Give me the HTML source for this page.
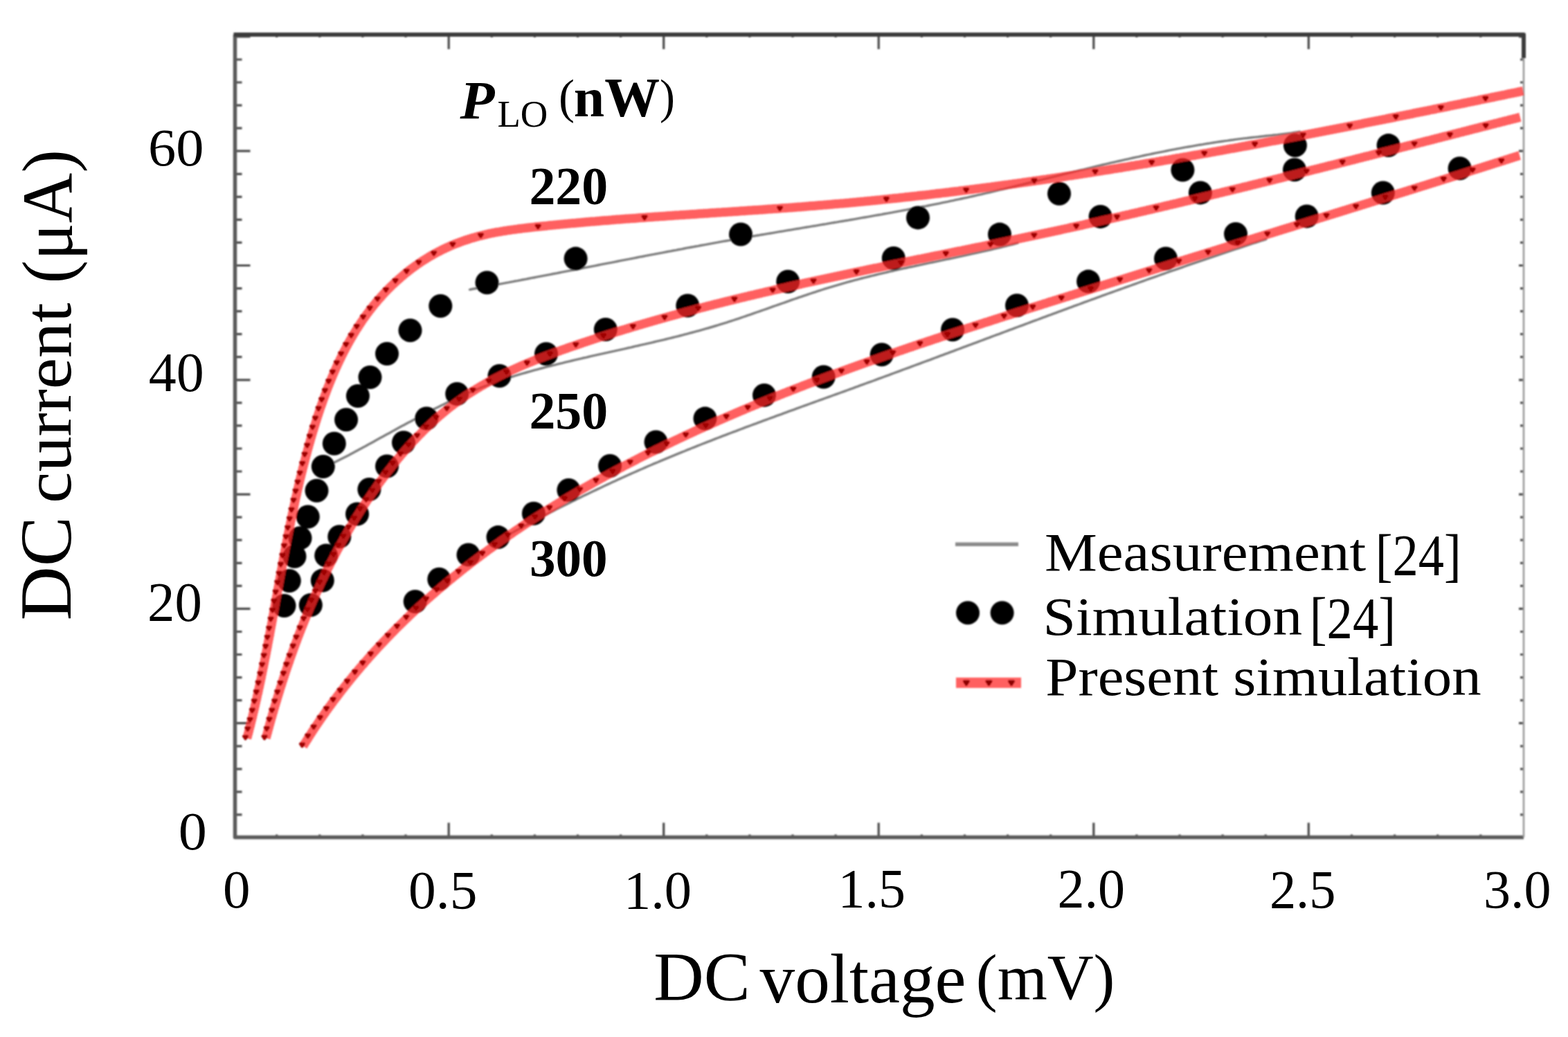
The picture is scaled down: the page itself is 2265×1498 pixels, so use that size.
<!DOCTYPE html>
<html><head><meta charset="utf-8"><title>DC current vs DC voltage</title>
<style>html,body{margin:0;padding:0;background:#fff;}svg{display:block;}</style>
</head><body><svg xmlns="http://www.w3.org/2000/svg" width="2265" height="1498" viewBox="0 0 2265 1498"><defs><filter id="bg" x="-2%" y="-2%" width="104%" height="104%"><feGaussianBlur stdDeviation="0.90"/></filter><filter id="bt" x="-5%" y="-5%" width="110%" height="110%"><feGaussianBlur stdDeviation="0.45"/></filter></defs><g filter="url(#bg)"><path d="M399.7 1209.5V1205.5M399.7 50.0V54.0M461.8 1209.5V1205.5M461.8 50.0V54.0M523.9 1209.5V1205.5M523.9 50.0V54.0M586.0 1209.5V1205.5M586.0 50.0V54.0M648.2 1209.5V1188.5M648.2 50.0V71.0M710.3 1209.5V1205.5M710.3 50.0V54.0M772.4 1209.5V1205.5M772.4 50.0V54.0M834.5 1209.5V1205.5M834.5 50.0V54.0M896.6 1209.5V1205.5M896.6 50.0V54.0M958.7 1209.5V1188.5M958.7 50.0V71.0M1020.8 1209.5V1205.5M1020.8 50.0V54.0M1082.9 1209.5V1205.5M1082.9 50.0V54.0M1145.0 1209.5V1205.5M1145.0 50.0V54.0M1207.1 1209.5V1205.5M1207.1 50.0V54.0M1269.2 1209.5V1188.5M1269.2 50.0V71.0M1331.4 1209.5V1205.5M1331.4 50.0V54.0M1393.5 1209.5V1205.5M1393.5 50.0V54.0M1455.6 1209.5V1205.5M1455.6 50.0V54.0M1517.7 1209.5V1205.5M1517.7 50.0V54.0M1579.8 1209.5V1188.5M1579.8 50.0V71.0M1641.9 1209.5V1205.5M1641.9 50.0V54.0M1704.0 1209.5V1205.5M1704.0 50.0V54.0M1766.1 1209.5V1205.5M1766.1 50.0V54.0M1828.2 1209.5V1205.5M1828.2 50.0V54.0M1890.3 1209.5V1188.5M1890.3 50.0V71.0M1952.5 1209.5V1205.5M1952.5 50.0V54.0M2014.6 1209.5V1205.5M2014.6 50.0V54.0M2076.7 1209.5V1205.5M2076.7 50.0V54.0M2138.8 1209.5V1205.5M2138.8 50.0V54.0M339.5 1176.9H349.5M2201.0 1176.9H2196.0M339.5 1143.9H349.5M2201.0 1143.9H2196.0M339.5 1110.8H349.5M2201.0 1110.8H2196.0M339.5 1077.8H349.5M2201.0 1077.8H2196.0M339.5 1044.7H361.5M2201.0 1044.7H2194.0M339.5 1011.6H349.5M2201.0 1011.6H2196.0M339.5 978.6H349.5M2201.0 978.6H2196.0M339.5 945.5H349.5M2201.0 945.5H2196.0M339.5 912.5H349.5M2201.0 912.5H2196.0M339.5 879.4H361.5M2201.0 879.4H2194.0M339.5 846.3H349.5M2201.0 846.3H2196.0M339.5 813.3H349.5M2201.0 813.3H2196.0M339.5 780.2H349.5M2201.0 780.2H2196.0M339.5 747.2H349.5M2201.0 747.2H2196.0M339.5 714.1H361.5M2201.0 714.1H2194.0M339.5 681.0H349.5M2201.0 681.0H2196.0M339.5 648.0H349.5M2201.0 648.0H2196.0M339.5 614.9H349.5M2201.0 614.9H2196.0M339.5 581.9H349.5M2201.0 581.9H2196.0M339.5 548.8H361.5M2201.0 548.8H2194.0M339.5 515.7H349.5M2201.0 515.7H2196.0M339.5 482.7H349.5M2201.0 482.7H2196.0M339.5 449.6H349.5M2201.0 449.6H2196.0M339.5 416.6H349.5M2201.0 416.6H2196.0M339.5 383.5H361.5M2201.0 383.5H2194.0M339.5 350.4H349.5M2201.0 350.4H2196.0M339.5 317.4H349.5M2201.0 317.4H2196.0M339.5 284.3H349.5M2201.0 284.3H2196.0M339.5 251.3H349.5M2201.0 251.3H2196.0M339.5 218.2H361.5M2201.0 218.2H2194.0M339.5 185.1H349.5M2201.0 185.1H2196.0M339.5 152.1H349.5M2201.0 152.1H2196.0M339.5 119.0H349.5M2201.0 119.0H2196.0M339.5 86.0H349.5M2201.0 86.0H2196.0M339.5 52.9H361.5M2201.0 52.9H2194.0" stroke="#4a4a4a" stroke-width="3.2" fill="none"/><path d="M339.5 50.0V1209.5H2201.0" stroke="#5a5a5a" stroke-width="5.5" fill="none" stroke-linejoin="round"/><path d="M337.5 50.0H2201.0V84.0" stroke="#3a3a3a" stroke-width="6" fill="none" stroke-linejoin="round"/><path d="M2201.0 84.0V1209.5" stroke="#9a9a9a" stroke-width="2.6" fill="none"/><path d="M678.6 418.3L682.6 417.5L686.7 416.8L690.7 416.1L694.7 415.3L698.8 414.6L702.8 413.9L706.8 413.1L710.9 412.4L714.9 411.6L718.9 410.9L723.0 410.1L727.0 409.4L731.0 408.6L735.1 407.9L739.1 407.1L743.1 406.3L747.2 405.6L751.2 404.8L755.2 404.0L759.2 403.3L763.3 402.5L767.3 401.7L771.3 401.0L775.4 400.2L779.4 399.4L783.4 398.6L787.4 397.9L791.5 397.1L795.5 396.3L799.5 395.5L803.5 394.8L807.6 394.0L811.6 393.2L815.6 392.4L819.6 391.6L823.7 390.8L827.7 390.1L831.7 389.3L835.7 388.5L839.8 387.7L843.8 386.9L847.8 386.1L851.8 385.3L855.8 384.6L859.9 383.8L863.9 383.0L867.9 382.2L871.9 381.4L875.9 380.6L880.0 379.8L884.0 379.1L888.0 378.3L892.0 377.5L896.0 376.7L900.1 375.9L904.1 375.1L908.1 374.4L912.1 373.6L916.1 372.8L920.2 372.0L924.2 371.2L928.2 370.5L932.2 369.7L936.2 368.9L940.2 368.1L944.3 367.4L948.3 366.6L952.3 365.8L956.3 365.1L960.3 364.3L964.3 363.5L968.3 362.8L972.4 362.0L976.4 361.3L980.4 360.5L984.4 359.8L988.4 359.0L992.4 358.2L996.4 357.5L1000.5 356.8L1004.5 356.0L1008.5 355.3L1012.5 354.5L1016.5 353.8L1020.5 353.1L1024.5 352.3L1028.5 351.6L1032.6 350.9L1036.6 350.2L1040.6 349.4L1044.6 348.7L1048.6 348.0L1052.6 347.3L1056.6 346.6L1060.6 345.9L1064.6 345.2L1068.7 344.5L1072.7 343.8L1076.7 343.1L1080.7 342.4L1084.7 341.7L1088.7 341.0L1092.7 340.3L1096.7 339.7L1100.7 339.0L1104.7 338.3L1108.7 337.6L1112.8 337.0L1116.8 336.3L1120.8 335.6L1124.8 334.9L1128.8 334.3L1132.8 333.6L1136.8 332.9L1140.8 332.3L1144.8 331.6L1148.8 330.9L1152.8 330.3L1156.8 329.6L1160.8 328.9L1164.8 328.3L1168.9 327.6L1172.9 326.9L1176.9 326.3L1180.9 325.6L1184.9 324.9L1188.9 324.2L1192.9 323.6L1196.9 322.9L1200.9 322.2L1204.9 321.5L1208.9 320.9L1212.9 320.2L1216.9 319.5L1220.9 318.8L1224.9 318.2L1228.9 317.5L1232.9 316.8L1236.9 316.1L1240.9 315.4L1244.9 314.7L1249.0 314.0L1253.0 313.3L1257.0 312.6L1261.0 311.9L1265.0 311.2L1269.0 310.5L1273.0 309.8L1277.0 309.0L1281.0 308.3L1285.0 307.6L1289.0 306.9L1293.0 306.1L1297.0 305.4L1301.0 304.7L1305.0 303.9L1309.0 303.2L1313.0 302.4L1317.0 301.6L1321.0 300.9L1325.0 300.1L1329.0 299.3L1333.0 298.5L1337.0 297.8L1341.0 297.0L1345.0 296.2L1349.0 295.4L1353.0 294.6L1357.0 293.8L1361.0 292.9L1365.0 292.1L1369.0 291.3L1373.0 290.4L1377.0 289.6L1381.0 288.7L1385.0 287.9L1389.0 287.0L1393.0 286.1L1397.0 285.3L1401.0 284.4L1405.0 283.5L1409.0 282.6L1413.0 281.7L1417.0 280.8L1421.0 279.8L1425.0 278.9L1429.0 278.0L1433.0 277.1L1437.0 276.1L1441.0 275.2L1445.0 274.2L1449.0 273.3L1453.0 272.3L1457.0 271.3L1461.1 270.4L1465.1 269.4L1469.1 268.4L1473.1 267.4L1477.1 266.5L1481.1 265.5L1485.1 264.5L1489.1 263.5L1493.1 262.5L1497.1 261.5L1501.1 260.5L1505.1 259.6L1509.1 258.6L1513.1 257.6L1517.1 256.6L1521.1 255.6L1525.1 254.6L1529.1 253.6L1533.1 252.6L1537.1 251.6L1541.1 250.6L1545.1 249.7L1549.1 248.7L1553.1 247.7L1557.1 246.7L1561.1 245.7L1565.1 244.8L1569.1 243.8L1573.1 242.8L1577.1 241.9L1581.1 240.9L1585.1 239.9L1589.1 239.0L1593.1 238.0L1597.1 237.1L1601.1 236.2L1605.1 235.2L1609.1 234.3L1613.1 233.4L1617.1 232.5L1621.1 231.6L1625.1 230.7L1629.1 229.8L1633.1 228.9L1637.1 228.0L1641.1 227.1L1645.1 226.3L1649.1 225.4L1653.1 224.5L1657.1 223.7L1661.1 222.9L1665.1 222.0L1669.1 221.2L1673.1 220.4L1677.1 219.6L1681.1 218.8L1685.1 218.0L1689.1 217.2L1693.1 216.4L1697.1 215.7L1701.1 214.9L1705.1 214.2L1709.1 213.4L1713.1 212.7L1717.2 212.0L1721.2 211.3L1725.2 210.6L1729.2 209.9L1733.2 209.2L1737.2 208.6L1741.2 207.9L1745.2 207.3L1749.2 206.6L1753.2 206.0L1757.2 205.4L1761.2 204.8L1765.2 204.2L1769.2 203.6L1773.2 203.1L1777.2 202.5L1781.2 202.0L1785.2 201.4L1789.2 200.9L1793.2 200.4L1797.2 199.9L1801.3 199.5L1805.3 199.0L1809.3 198.5L1813.3 198.1L1817.3 197.7L1821.3 197.2L1825.3 196.8L1829.3 196.3L1833.3 195.9L1837.3 195.5L1841.3 195.0L1845.3 194.6L1849.3 194.1L1853.3 193.6L1857.3 193.1L1861.4 192.6L1865.4 192.1L1869.4 191.5L1873.4 190.9L1877.4 190.3" stroke="#7d7d7d" stroke-width="3.4" fill="none" stroke-linejoin="round" stroke-linecap="round"/><path d="M477.1 671.1L480.1 669.6L483.0 668.1L486.0 666.6L489.0 665.1L491.9 663.6L494.9 662.0L497.9 660.5L500.9 658.9L503.9 657.4L506.9 655.8L509.9 654.2L512.9 652.6L515.9 650.9L518.9 649.3L521.9 647.7L525.0 646.0L528.0 644.4L531.0 642.7L534.1 641.1L537.1 639.4L540.2 637.7L543.2 636.0L546.3 634.3L549.4 632.6L552.4 631.0L555.5 629.3L558.6 627.6L561.7 625.9L564.8 624.2L567.9 622.4L571.0 620.7L574.1 619.0L577.2 617.3L580.3 615.6L583.5 613.9L586.6 612.2L589.7 610.5L592.9 608.9L596.0 607.2L599.2 605.5L602.3 603.8L605.5 602.1L608.6 600.5L611.8 598.8L615.0 597.2L618.1 595.5L621.3 593.9L624.5 592.2L627.7 590.6L630.9 589.0L634.1 587.4L637.3 585.8L640.5 584.3L643.7 582.7L646.9 581.1L650.2 579.6L653.4 578.1L656.6 576.6L659.9 575.1L663.1 573.6L666.3 572.1L669.6 570.6L672.8 569.2L676.1 567.8L679.4 566.4L682.6 565.0L685.9 563.6L689.2 562.3L692.4 561.0L695.7 559.7L699.0 558.4L702.3 557.1L705.6 555.9L708.9 554.7L712.2 553.5L715.5 552.3L718.8 551.1L722.1 550.0L725.4 548.8L728.8 547.7L732.1 546.6L735.4 545.6L738.8 544.5L742.1 543.5L745.4 542.4L748.8 541.4L752.1 540.4L755.5 539.4L758.8 538.5L762.2 537.5L765.5 536.6L768.9 535.6L772.2 534.7L775.6 533.8L779.0 532.9L782.3 532.0L785.7 531.1L789.1 530.2L792.4 529.3L795.8 528.5L799.2 527.6L802.6 526.8L806.0 525.9L809.3 525.1L812.7 524.3L816.1 523.4L819.5 522.6L822.9 521.8L826.3 521.0L829.7 520.2L833.1 519.4L836.4 518.6L839.8 517.8L843.2 517.0L846.6 516.3L850.0 515.5L853.4 514.7L856.8 513.9L860.2 513.2L863.6 512.4L867.0 511.6L870.4 510.9L873.8 510.1L877.2 509.4L880.6 508.6L884.0 507.8L887.4 507.1L890.8 506.3L894.2 505.6L897.6 504.8L901.0 504.1L904.4 503.3L907.8 502.5L911.2 501.8L914.6 501.0L917.9 500.2L921.3 499.5L924.7 498.7L928.1 497.9L931.5 497.2L934.9 496.4L938.3 495.6L941.7 494.8L945.0 494.0L948.4 493.2L951.8 492.4L955.2 491.6L958.6 490.8L962.0 490.0L965.3 489.2L968.7 488.3L972.1 487.5L975.5 486.7L978.9 485.8L982.2 485.0L985.6 484.1L989.0 483.2L992.4 482.3L995.7 481.4L999.1 480.5L1002.5 479.6L1005.9 478.7L1009.2 477.8L1012.6 476.8L1016.0 475.9L1019.3 474.9L1022.7 474.0L1026.1 473.0L1029.5 472.0L1032.8 471.0L1036.2 470.0L1039.6 468.9L1042.9 467.9L1046.3 466.8L1049.7 465.8L1053.0 464.7L1056.4 463.6L1059.8 462.5L1063.1 461.4L1066.5 460.3L1069.9 459.2L1073.2 458.0L1076.6 456.9L1080.0 455.7L1083.3 454.6L1086.7 453.4L1090.1 452.2L1093.4 451.0L1096.8 449.9L1100.2 448.7L1103.5 447.5L1106.9 446.3L1110.3 445.1L1113.6 443.9L1117.0 442.7L1120.4 441.5L1123.7 440.3L1127.1 439.2L1130.5 438.0L1133.8 436.8L1137.2 435.6L1140.6 434.4L1143.9 433.2L1147.3 432.0L1150.7 430.9L1154.0 429.7L1157.4 428.6L1160.8 427.4L1164.1 426.3L1167.5 425.1L1170.9 424.0L1174.2 422.9L1177.6 421.8L1181.0 420.7L1184.3 419.6L1187.7 418.5L1191.1 417.4L1194.4 416.4L1197.8 415.3L1201.2 414.3L1204.5 413.3L1207.9 412.3L1211.3 411.3L1214.7 410.3L1218.0 409.3L1221.4 408.4L1224.8 407.4L1228.2 406.5L1231.5 405.6L1234.9 404.7L1238.3 403.8L1241.7 402.9L1245.0 402.0L1248.4 401.2L1251.8 400.3L1255.2 399.5L1258.5 398.6L1261.9 397.8L1265.3 397.0L1268.7 396.2L1272.1 395.4L1275.4 394.6L1278.8 393.8L1282.2 393.0L1285.6 392.2L1289.0 391.5L1292.4 390.7L1295.8 389.9L1299.1 389.2L1302.5 388.4L1305.9 387.7L1309.3 387.0L1312.7 386.2L1316.1 385.5L1319.5 384.8L1322.9 384.0L1326.3 383.3L1329.7 382.6L1333.1 381.9L1336.5 381.1L1339.9 380.4L1343.3 379.7L1346.7 379.0L1350.1 378.3L1353.5 377.6L1356.9 376.9L1360.3 376.2L1363.7 375.4L1367.1 374.7L1370.5 374.0L1373.9 373.3L1377.3 372.6L1380.7 371.8L1384.1 371.1L1387.6 370.4L1391.0 369.7L1394.4 368.9L1397.8 368.2L1401.2 367.4L1404.6 366.7L1408.1 365.9L1411.5 365.2L1414.9 364.4L1418.3 363.7L1421.8 362.9L1425.2 362.1L1428.6 361.3L1432.1 360.5L1435.5 359.7L1438.9 358.9L1442.4 358.1L1445.8 357.3L1449.2 356.4L1452.7 355.6L1456.1 354.7L1459.6 353.9L1463.0 353.0L1466.4 352.1L1469.9 351.2" stroke="#7d7d7d" stroke-width="3.4" fill="none" stroke-linejoin="round" stroke-linecap="round"/><path d="M732.7 773.5L736.2 771.6L739.7 769.7L743.2 767.7L746.7 765.8L750.2 763.9L753.7 762.0L757.2 760.1L760.8 758.3L764.3 756.4L767.8 754.5L771.3 752.6L774.9 750.8L778.4 748.9L781.9 747.1L785.5 745.2L789.0 743.4L792.5 741.6L796.1 739.8L799.6 737.9L803.2 736.1L806.7 734.3L810.2 732.5L813.8 730.7L817.3 729.0L820.9 727.2L824.5 725.4L828.0 723.6L831.6 721.9L835.1 720.1L838.7 718.4L842.3 716.6L845.8 714.9L849.4 713.2L853.0 711.5L856.5 709.8L860.1 708.1L863.7 706.4L867.3 704.7L870.8 703.0L874.4 701.3L878.0 699.6L881.6 698.0L885.2 696.3L888.8 694.7L892.3 693.0L895.9 691.4L899.5 689.7L903.1 688.1L906.7 686.5L910.3 684.9L913.9 683.3L917.5 681.7L921.1 680.1L924.7 678.5L928.3 677.0L931.9 675.4L935.5 673.8L939.1 672.3L942.7 670.7L946.4 669.2L950.0 667.7L953.6 666.1L957.2 664.6L960.8 663.1L964.4 661.6L968.1 660.1L971.7 658.6L975.3 657.1L978.9 655.6L982.6 654.1L986.2 652.7L989.8 651.2L993.5 649.7L997.1 648.3L1000.7 646.8L1004.4 645.4L1008.0 643.9L1011.6 642.5L1015.3 641.0L1018.9 639.6L1022.6 638.2L1026.2 636.8L1029.8 635.4L1033.5 633.9L1037.1 632.5L1040.8 631.1L1044.4 629.7L1048.1 628.3L1051.7 626.9L1055.4 625.5L1059.0 624.1L1062.7 622.8L1066.4 621.4L1070.0 620.0L1073.7 618.6L1077.3 617.2L1081.0 615.9L1084.7 614.5L1088.3 613.1L1092.0 611.8L1095.7 610.4L1099.3 609.1L1103.0 607.7L1106.7 606.3L1110.3 605.0L1114.0 603.6L1117.7 602.3L1121.3 600.9L1125.0 599.6L1128.7 598.3L1132.4 596.9L1136.0 595.6L1139.7 594.2L1143.4 592.9L1147.1 591.6L1150.8 590.2L1154.4 588.9L1158.1 587.5L1161.8 586.2L1165.5 584.9L1169.2 583.5L1172.9 582.2L1176.5 580.9L1180.2 579.5L1183.9 578.2L1187.6 576.9L1191.3 575.5L1195.0 574.2L1198.7 572.8L1202.4 571.5L1206.1 570.2L1209.8 568.8L1213.5 567.5L1217.2 566.2L1220.9 564.8L1224.5 563.5L1228.2 562.1L1231.9 560.8L1235.6 559.4L1239.3 558.1L1243.0 556.7L1246.7 555.4L1250.4 554.0L1254.1 552.7L1257.9 551.3L1261.6 550.0L1265.3 548.6L1269.0 547.2L1272.7 545.9L1276.4 544.5L1280.1 543.1L1283.8 541.8L1287.5 540.4L1291.2 539.0L1294.9 537.7L1298.6 536.3L1302.3 534.9L1306.0 533.5L1309.8 532.2L1313.5 530.8L1317.2 529.4L1320.9 528.0L1324.6 526.7L1328.3 525.3L1332.0 523.9L1335.7 522.5L1339.5 521.1L1343.2 519.8L1346.9 518.4L1350.6 517.0L1354.3 515.6L1358.0 514.2L1361.7 512.8L1365.5 511.4L1369.2 510.1L1372.9 508.7L1376.6 507.3L1380.3 505.9L1384.0 504.5L1387.8 503.1L1391.5 501.7L1395.2 500.3L1398.9 498.9L1402.6 497.6L1406.4 496.2L1410.1 494.8L1413.8 493.4L1417.5 492.0L1421.2 490.6L1425.0 489.2L1428.7 487.8L1432.4 486.4L1436.1 485.0L1439.8 483.6L1443.6 482.3L1447.3 480.9L1451.0 479.5L1454.7 478.1L1458.4 476.7L1462.2 475.3L1465.9 473.9L1469.6 472.5L1473.3 471.2L1477.0 469.8L1480.8 468.4L1484.5 467.0L1488.2 465.6L1491.9 464.2L1495.6 462.8L1499.4 461.5L1503.1 460.1L1506.8 458.7L1510.5 457.3L1514.2 455.9L1518.0 454.6L1521.7 453.2L1525.4 451.8L1529.1 450.4L1532.8 449.1L1536.6 447.7L1540.3 446.3L1544.0 444.9L1547.7 443.6L1551.4 442.2L1555.1 440.8L1558.9 439.5L1562.6 438.1L1566.3 436.7L1570.0 435.4L1573.7 434.0L1577.4 432.7L1581.2 431.3L1584.9 429.9L1588.6 428.6L1592.3 427.2L1596.0 425.9L1599.7 424.5L1603.5 423.2L1607.2 421.8L1610.9 420.5L1614.6 419.2L1618.3 417.8L1622.0 416.5L1625.7 415.1L1629.4 413.8L1633.2 412.5L1636.9 411.1L1640.6 409.8L1644.3 408.5L1648.0 407.2L1651.7 405.8L1655.4 404.5L1659.1 403.2L1662.8 401.9L1666.5 400.6L1670.2 399.3L1673.9 398.0L1677.6 396.6L1681.3 395.3L1685.0 394.0L1688.7 392.7L1692.4 391.4L1696.2 390.2L1699.9 388.9L1703.6 387.6L1707.3 386.3L1710.9 385.0L1714.6 383.7L1718.3 382.4L1722.0 381.2L1725.7 379.9L1729.4 378.6L1733.1 377.4L1736.8 376.1L1740.5 374.8L1744.2 373.6L1747.9 372.3L1751.6 371.1L1755.3 369.8L1759.0 368.6L1762.7 367.4L1766.3 366.1L1770.0 364.9L1773.7 363.7L1777.4 362.4L1781.1 361.2L1784.8 360.0L1788.4 358.8L1792.1 357.6L1795.8 356.3L1799.5 355.1L1803.2 353.9L1806.8 352.7L1810.5 351.5L1814.2 350.3L1817.9 349.2L1821.5 348.0L1825.2 346.8L1828.9 345.6" stroke="#7d7d7d" stroke-width="3.4" fill="none" stroke-linejoin="round" stroke-linecap="round"/><g fill="#000"><circle cx="410.5" cy="875.0" r="17"/><circle cx="417.8" cy="839.0" r="17"/><circle cx="425.5" cy="803.8" r="17"/><circle cx="433.5" cy="777.2" r="17"/><circle cx="444.8" cy="746.5" r="17"/><circle cx="457.5" cy="708.7" r="17"/><circle cx="466.8" cy="674.0" r="17"/><circle cx="482.8" cy="640.8" r="17"/><circle cx="500.1" cy="606.3" r="17"/><circle cx="516.9" cy="572.0" r="17"/><circle cx="534.5" cy="545.0" r="17"/><circle cx="559.0" cy="511.0" r="17"/><circle cx="592.5" cy="477.3" r="17"/><circle cx="636.3" cy="442.0" r="17"/><circle cx="703.5" cy="408.2" r="17"/><circle cx="831.6" cy="373.6" r="17"/><circle cx="1070.0" cy="338.5" r="17"/><circle cx="1326.0" cy="314.4" r="17"/><circle cx="1530.0" cy="279.8" r="17"/><circle cx="1708.4" cy="245.5" r="17"/><circle cx="1870.9" cy="210.0" r="17"/><circle cx="448.8" cy="874.0" r="17"/><circle cx="465.8" cy="838.6" r="17"/><circle cx="471.2" cy="802.5" r="17"/><circle cx="490.3" cy="775.3" r="17"/><circle cx="516.0" cy="742.5" r="17"/><circle cx="533.4" cy="707.0" r="17"/><circle cx="559.0" cy="673.5" r="17"/><circle cx="583.0" cy="639.3" r="17"/><circle cx="616.2" cy="604.5" r="17"/><circle cx="660.2" cy="569.0" r="17"/><circle cx="721.5" cy="543.0" r="17"/><circle cx="789.0" cy="511.2" r="17"/><circle cx="874.8" cy="476.0" r="17"/><circle cx="993.3" cy="441.5" r="17"/><circle cx="1138.2" cy="406.8" r="17"/><circle cx="1290.8" cy="373.0" r="17"/><circle cx="1444.0" cy="338.6" r="17"/><circle cx="1589.6" cy="312.9" r="17"/><circle cx="1733.9" cy="278.4" r="17"/><circle cx="1870.0" cy="245.2" r="17"/><circle cx="2005.6" cy="210.1" r="17"/><circle cx="599.7" cy="869.0" r="17"/><circle cx="634.3" cy="836.7" r="17"/><circle cx="676.5" cy="801.4" r="17"/><circle cx="719.5" cy="776.1" r="17"/><circle cx="770.9" cy="741.7" r="17"/><circle cx="821.4" cy="707.9" r="17"/><circle cx="881.1" cy="673.0" r="17"/><circle cx="947.5" cy="638.5" r="17"/><circle cx="1018.5" cy="604.6" r="17"/><circle cx="1104.0" cy="570.9" r="17"/><circle cx="1189.7" cy="544.5" r="17"/><circle cx="1273.7" cy="512.2" r="17"/><circle cx="1376.1" cy="476.3" r="17"/><circle cx="1469.0" cy="441.2" r="17"/><circle cx="1572.1" cy="406.6" r="17"/><circle cx="1684.0" cy="373.5" r="17"/><circle cx="1785.0" cy="337.9" r="17"/><circle cx="1887.7" cy="312.4" r="17"/><circle cx="1997.8" cy="278.5" r="17"/><circle cx="2108.6" cy="243.2" r="17"/></g><path d="M356.7 1066.6L357.4 1064.0L358.1 1061.4L358.8 1058.8L359.5 1056.1L360.1 1053.5L360.8 1050.9L361.5 1048.3L362.1 1045.6L362.8 1043.0L363.4 1040.4L364.1 1037.8L364.7 1035.2L365.3 1032.6L365.9 1029.9L366.6 1027.3L367.2 1024.7L367.8 1022.1L368.4 1019.5L369.0 1016.9L369.6 1014.3L370.2 1011.7L370.8 1009.1L371.3 1006.5L371.9 1003.9L372.5 1001.3L373.1 998.7L373.6 996.1L374.2 993.5L374.8 990.9L375.3 988.3L375.9 985.7L376.4 983.1L377.0 980.5L377.5 977.9L378.0 975.3L378.6 972.7L379.1 970.1L379.6 967.5L380.2 964.9L380.7 962.3L381.2 959.7L381.7 957.2L382.2 954.6L382.7 952.0L383.3 949.4L383.8 946.8L384.3 944.2L384.8 941.6L385.3 939.1L385.8 936.5L386.3 933.9L386.7 931.3L387.2 928.7L387.7 926.2L388.2 923.6L388.7 921.0L389.2 918.4L389.7 915.9L390.1 913.3L390.6 910.7L391.1 908.1L391.6 905.6L392.1 903.0L392.5 900.4L393.0 897.9L393.5 895.3L393.9 892.7L394.4 890.1L394.9 887.6L395.3 885.0L395.8 882.4L396.3 879.9L396.7 877.3L397.2 874.7L397.7 872.2L398.1 869.6L398.6 867.0L399.1 864.5L399.5 861.9L400.0 859.4L400.4 856.8L400.9 854.2L401.4 851.7L401.8 849.1L402.3 846.5L402.8 844.0L403.2 841.4L403.7 838.9L404.2 836.3L404.6 833.7L405.1 831.2L405.6 828.6L406.0 826.1L406.5 823.5L407.0 820.9L407.4 818.4L407.9 815.8L408.4 813.3L408.9 810.7L409.3 808.2L409.8 805.6L410.3 803.0L410.8 800.5L411.3 797.9L411.7 795.4L412.2 792.8L412.7 790.3L413.2 787.7L413.7 785.2L414.2 782.6L414.7 780.0L415.2 777.5L415.7 774.9L416.2 772.4L416.7 769.8L417.2 767.3L417.7 764.7L418.2 762.2L418.7 759.6L419.3 757.0L419.8 754.5L420.3 751.9L420.8 749.4L421.4 746.8L421.9 744.3L422.4 741.7L423.0 739.2L423.5 736.6L424.1 734.1L424.6 731.5L425.2 728.9L425.7 726.4L426.3 723.8L426.8 721.3L427.4 718.7L428.0 716.2L428.6 713.6L429.1 711.0L429.7 708.5L430.3 705.9L430.9 703.4L431.5 700.8L432.1 698.3L432.7 695.7L433.3 693.1L433.9 690.6L434.6 688.0L435.2 685.5L435.8 682.9L436.5 680.4L437.1 677.8L437.7 675.2L438.4 672.7L439.1 670.1L439.7 667.5L440.4 665.0L441.1 662.4L441.7 659.9L442.4 657.3L443.1 654.7L443.8 652.2L444.5 649.6L445.2 647.0L445.9 644.5L446.6 641.9L447.4 639.3L448.1 636.8L448.8 634.2L449.6 631.6L450.3 629.1L451.1 626.5L451.8 623.9L452.6 621.4L453.4 618.8L454.2 616.2L455.0 613.7L455.8 611.1L456.6 608.5L457.4 606.0L458.2 603.4L459.0 600.9L459.9 598.3L460.7 595.7L461.6 593.2L462.4 590.6L463.3 588.1L464.2 585.5L465.1 583.0L466.0 580.5L466.9 577.9L467.8 575.4L468.7 572.9L469.6 570.3L470.6 567.8L471.5 565.3L472.5 562.8L473.4 560.3L474.4 557.8L475.4 555.3L476.4 552.8L477.4 550.3L478.4 547.8L479.5 545.3L480.5 542.8L481.6 540.4L482.6 537.9L483.7 535.5L484.8 533.0L485.9 530.6L487.0 528.1L488.1 525.7L489.3 523.3L490.4 520.9L491.6 518.5L492.7 516.1L493.9 513.7L495.1 511.3L496.3 508.9L497.5 506.5L498.8 504.2L500.0 501.8L501.3 499.5L502.5 497.2L503.8 494.8L505.1 492.5L506.4 490.2L507.7 487.9L509.1 485.7L510.4 483.4L511.8 481.1L513.2 478.9L514.5 476.6L516.0 474.4L517.4 472.2L518.8 470.0L520.3 467.8L521.7 465.6L523.2 463.4L524.7 461.2L526.2 459.1L527.7 456.9L529.3 454.8L530.8 452.7L532.4 450.6L534.0 448.5L535.6 446.4L537.2 444.4L538.8 442.3L540.5 440.3L542.1 438.3L543.8 436.3L545.5 434.3L547.2 432.3L549.0 430.3L550.7 428.4L552.4 426.5L554.2 424.5L556.0 422.6L557.8 420.7L559.6 418.9L561.4 417.0L563.3 415.2L565.1 413.4L567.0 411.5L568.9 409.8L570.8 408.0L572.7 406.2L574.6 404.5L576.6 402.8L578.5 401.1L580.5 399.4L582.5 397.7L584.4 396.0L586.4 394.4L588.5 392.8L590.5 391.2L592.5 389.6L594.6 388.0L596.7 386.5L598.8 385.0L600.8 383.5L603.0 382.0L605.1 380.5L607.2 379.1L609.3 377.7L611.5 376.3L613.7 374.9L615.9 373.5L618.0 372.2L620.2 370.8L622.5 369.5L624.7 368.3L626.9 367.0L629.2 365.8L631.4 364.5L633.7 363.4L636.0 362.2L638.3 361.0L640.6 359.9L642.9 358.8L645.2 357.7L647.6 356.7L649.9 355.6L652.3 354.6L654.6 353.6L657.0 352.6L659.4 351.7L661.8 350.8L664.2 349.9L666.6 349.0L669.0 348.1L671.5 347.3L673.9 346.5L676.4 345.7L678.8 344.9L681.3 344.1L683.7 343.4L686.2 342.7L688.7 342.0L691.2 341.3L693.7 340.7L696.2 340.1L698.7 339.5L701.2 338.9L703.7 338.3L706.3 337.7L708.8 337.2L711.4 336.7L713.9 336.2L716.4 335.7L719.0 335.2L721.6 334.8L724.1 334.3L726.7 333.9L729.3 333.5L731.8 333.1L734.4 332.7L737.0 332.3L739.6 331.9L742.2 331.6L744.8 331.2L747.4 330.9L750.0 330.5L752.6 330.2L755.2 329.9L757.8 329.6L760.4 329.3L763.0 329.0L765.6 328.7L768.3 328.4L770.9 328.1L773.5 327.8L776.1 327.5L778.7 327.3L781.3 327.0L784.0 326.7L786.6 326.4L789.2 326.2L791.8 325.9L794.4 325.6L797.1 325.4L799.7 325.1L802.3 324.9L804.9 324.6L807.6 324.4L810.2 324.1L812.8 323.9L815.4 323.6L818.1 323.4L820.7 323.1L823.3 322.9L825.9 322.6L828.6 322.4L831.2 322.2L833.8 321.9L836.5 321.7L839.1 321.5L841.7 321.2L844.3 321.0L847.0 320.8L849.6 320.6L852.2 320.3L854.9 320.1L857.5 319.9L860.1 319.7L862.8 319.4L865.4 319.2L868.0 319.0L870.7 318.8L873.3 318.6L875.9 318.4L878.6 318.2L881.2 318.0L883.8 317.8L886.5 317.5L889.1 317.3L891.7 317.1L894.4 316.9L897.0 316.7L899.6 316.5L902.3 316.3L904.9 316.1L907.6 315.9L910.2 315.7L912.8 315.6L915.5 315.4L918.1 315.2L920.7 315.0L923.4 314.8L926.0 314.6L928.7 314.4L931.3 314.2L933.9 314.0L936.6 313.8L939.2 313.7L941.9 313.5L944.5 313.3L947.1 313.1L949.8 312.9L952.4 312.7L955.1 312.6L957.7 312.4L960.3 312.2L963.0 312.0L965.6 311.8L968.3 311.7L970.9 311.5L973.5 311.3L976.2 311.1L978.8 310.9L981.5 310.8L984.1 310.6L986.8 310.4L989.4 310.2L992.0 310.1L994.7 309.9L997.3 309.7L1000.0 309.5L1002.6 309.4L1005.3 309.2L1007.9 309.0L1010.5 308.8L1013.2 308.7L1015.8 308.5L1018.5 308.3L1021.1 308.2L1023.8 308.0L1026.4 307.8L1029.0 307.6L1031.7 307.5L1034.3 307.3L1037.0 307.1L1039.6 306.9L1042.3 306.8L1044.9 306.6L1047.5 306.4L1050.2 306.2L1052.8 306.1L1055.5 305.9L1058.1 305.7L1060.8 305.5L1063.4 305.4L1066.0 305.2L1068.7 305.0L1071.3 304.8L1074.0 304.7L1076.6 304.5L1079.3 304.3L1081.9 304.1L1084.5 304.0L1087.2 303.8L1089.8 303.6L1092.5 303.4L1095.1 303.2L1097.8 303.1L1100.4 302.9L1103.0 302.7L1105.7 302.5L1108.3 302.3L1111.0 302.1L1113.6 302.0L1116.2 301.8L1118.9 301.6L1121.5 301.4L1124.2 301.2L1126.8 301.0L1129.4 300.8L1132.1 300.6L1134.7 300.4L1137.4 300.2L1140.0 300.1L1142.6 299.9L1145.3 299.7L1147.9 299.5L1150.5 299.3L1153.2 299.1L1155.8 298.9L1158.5 298.7L1161.1 298.5L1163.7 298.3L1166.4 298.1L1169.0 297.8L1171.6 297.6L1174.3 297.4L1176.9 297.2L1179.5 297.0L1182.2 296.8L1184.8 296.6L1187.4 296.4L1190.1 296.1L1192.7 295.9L1195.3 295.7L1198.0 295.5L1200.6 295.3L1203.2 295.0L1205.9 294.8L1208.5 294.6L1211.1 294.4L1213.8 294.1L1216.4 293.9L1219.0 293.7L1221.7 293.4L1224.3 293.2L1226.9 293.0L1229.5 292.7L1232.2 292.5L1234.8 292.2L1237.4 292.0L1240.1 291.7L1242.7 291.5L1245.3 291.2L1247.9 291.0L1250.6 290.7L1253.2 290.5L1255.8 290.2L1258.4 290.0L1261.1 289.7L1263.7 289.5L1266.3 289.2L1268.9 288.9L1271.6 288.7L1274.2 288.4L1276.8 288.1L1279.4 287.9L1282.1 287.6L1284.7 287.3L1287.3 287.1L1289.9 286.8L1292.5 286.5L1295.2 286.2L1297.8 286.0L1300.4 285.7L1303.0 285.4L1305.6 285.1L1308.3 284.8L1310.9 284.6L1313.5 284.3L1316.1 284.0L1318.7 283.7L1321.3 283.4L1324.0 283.1L1326.6 282.8L1329.2 282.5L1331.8 282.2L1334.4 281.9L1337.0 281.7L1339.7 281.4L1342.3 281.1L1344.9 280.8L1347.5 280.4L1350.1 280.1L1352.7 279.8L1355.4 279.5L1358.0 279.2L1360.6 278.9L1363.2 278.6L1365.8 278.3L1368.4 278.0L1371.0 277.7L1373.6 277.3L1376.3 277.0L1378.9 276.7L1381.5 276.4L1384.1 276.1L1386.7 275.7L1389.3 275.4L1391.9 275.1L1394.5 274.8L1397.1 274.4L1399.8 274.1L1402.4 273.8L1405.0 273.5L1407.6 273.1L1410.2 272.8L1412.8 272.5L1415.4 272.1L1418.0 271.8L1420.6 271.4L1423.2 271.1L1425.8 270.8L1428.4 270.4L1431.1 270.1L1433.7 269.7L1436.3 269.4L1438.9 269.0L1441.5 268.7L1444.1 268.3L1446.7 268.0L1449.3 267.6L1451.9 267.3L1454.5 266.9L1457.1 266.6L1459.7 266.2L1462.3 265.9L1464.9 265.5L1467.5 265.2L1470.1 264.8L1472.7 264.4L1475.3 264.1L1477.9 263.7L1480.5 263.3L1483.1 263.0L1485.7 262.6L1488.3 262.2L1490.9 261.9L1493.5 261.5L1496.1 261.1L1498.7 260.7L1501.4 260.4L1504.0 260.0L1506.6 259.6L1509.2 259.2L1511.8 258.9L1514.4 258.5L1517.0 258.1L1519.6 257.7L1522.2 257.3L1524.7 257.0L1527.3 256.6L1529.9 256.2L1532.5 255.8L1535.1 255.4L1537.7 255.0L1540.3 254.6L1542.9 254.2L1545.5 253.8L1548.1 253.5L1550.7 253.1L1553.3 252.7L1555.9 252.3L1558.5 251.9L1561.1 251.5L1563.7 251.1L1566.3 250.7L1568.9 250.3L1571.5 249.9L1574.1 249.5L1576.7 249.1L1579.3 248.7L1581.9 248.2L1584.5 247.8L1587.1 247.4L1589.7 247.0L1592.3 246.6L1594.9 246.2L1597.5 245.8L1600.0 245.4L1602.6 245.0L1605.2 244.5L1607.8 244.1L1610.4 243.7L1613.0 243.3L1615.6 242.9L1618.2 242.5L1620.8 242.0L1623.4 241.6L1626.0 241.2L1628.6 240.8L1631.2 240.3L1633.8 239.9L1636.3 239.5L1638.9 239.1L1641.5 238.6L1644.1 238.2L1646.7 237.8L1649.3 237.3L1651.9 236.9L1654.5 236.5L1657.1 236.0L1659.7 235.6L1662.3 235.2L1664.9 234.7L1667.4 234.3L1670.0 233.9L1672.6 233.4L1675.2 233.0L1677.8 232.5L1680.4 232.1L1683.0 231.7L1685.6 231.2L1688.2 230.8L1690.8 230.3L1693.3 229.9L1695.9 229.4L1698.5 229.0L1701.1 228.5L1703.7 228.1L1706.3 227.6L1708.9 227.2L1711.5 226.7L1714.1 226.3L1716.6 225.8L1719.2 225.4L1721.8 224.9L1724.4 224.5L1727.0 224.0L1729.6 223.6L1732.2 223.1L1734.8 222.7L1737.3 222.2L1739.9 221.7L1742.5 221.3L1745.1 220.8L1747.7 220.3L1750.3 219.9L1752.9 219.4L1755.5 219.0L1758.0 218.5L1760.6 218.0L1763.2 217.6L1765.8 217.1L1768.4 216.6L1771.0 216.2L1773.6 215.7L1776.1 215.2L1778.7 214.7L1781.3 214.3L1783.9 213.8L1786.5 213.3L1789.1 212.9L1791.7 212.4L1794.3 211.9L1796.8 211.4L1799.4 211.0L1802.0 210.5L1804.6 210.0L1807.2 209.5L1809.8 209.0L1812.4 208.6L1814.9 208.1L1817.5 207.6L1820.1 207.1L1822.7 206.6L1825.3 206.2L1827.9 205.7L1830.4 205.2L1833.0 204.7L1835.6 204.2L1838.2 203.7L1840.8 203.3L1843.4 202.8L1846.0 202.3L1848.5 201.8L1851.1 201.3L1853.7 200.8L1856.3 200.3L1858.9 199.8L1861.5 199.3L1864.1 198.9L1866.6 198.4L1869.2 197.9L1871.8 197.4L1874.4 196.9L1877.0 196.4L1879.6 195.9L1882.1 195.4L1884.7 194.9L1887.3 194.4L1889.9 193.9L1892.5 193.4L1895.1 192.9L1897.7 192.4L1900.2 191.9L1902.8 191.4L1905.4 190.9L1908.0 190.4L1910.6 189.9L1913.2 189.4L1915.7 188.9L1918.3 188.4L1920.9 187.9L1923.5 187.4L1926.1 186.9L1928.7 186.4L1931.2 185.9L1933.8 185.4L1936.4 184.9L1939.0 184.4L1941.6 183.9L1944.2 183.3L1946.8 182.8L1949.3 182.3L1951.9 181.8L1954.5 181.3L1957.1 180.8L1959.7 180.3L1962.3 179.8L1964.8 179.3L1967.4 178.8L1970.0 178.2L1972.6 177.7L1975.2 177.2L1977.8 176.7L1980.4 176.2L1982.9 175.7L1985.5 175.2L1988.1 174.6L1990.7 174.1L1993.3 173.6L1995.9 173.1L1998.4 172.6L2001.0 172.1L2003.6 171.5L2006.2 171.0L2008.8 170.5L2011.4 170.0L2014.0 169.5L2016.5 169.0L2019.1 168.4L2021.7 167.9L2024.3 167.4L2026.9 166.9L2029.5 166.4L2032.0 165.8L2034.6 165.3L2037.2 164.8L2039.8 164.3L2042.4 163.7L2045.0 163.2L2047.6 162.7L2050.1 162.2L2052.7 161.7L2055.3 161.1L2057.9 160.6L2060.5 160.1L2063.1 159.6L2065.7 159.0L2068.2 158.5L2070.8 158.0L2073.4 157.5L2076.0 156.9L2078.6 156.4L2081.2 155.9L2083.8 155.3L2086.4 154.8L2088.9 154.3L2091.5 153.8L2094.1 153.2L2096.7 152.7L2099.3 152.2L2101.9 151.6L2104.5 151.1L2107.0 150.6L2109.6 150.1L2112.2 149.5L2114.8 149.0L2117.4 148.5L2120.0 147.9L2122.6 147.4L2125.2 146.9L2127.8 146.3L2130.3 145.8L2132.9 145.3L2135.5 144.8L2138.1 144.2L2140.7 143.7L2143.3 143.2L2145.9 142.6L2148.5 142.1L2151.0 141.6L2153.6 141.0L2156.2 140.5L2158.8 140.0L2161.4 139.4L2164.0 138.9L2166.6 138.4L2169.2 137.8L2171.8 137.3L2174.4 136.8L2176.9 136.2L2179.5 135.7L2182.1 135.2L2184.7 134.6L2187.3 134.1L2189.9 133.6L2192.5 133.0L2195.1 132.5L2197.7 131.9L2200.3 131.4" stroke="rgb(255,40,40)" stroke-opacity="0.74" stroke-width="13" fill="none" stroke-linejoin="round" stroke-linecap="butt"/><path d="M384.2 1066.3L384.8 1064.0L385.4 1061.6L386.1 1059.3L386.7 1057.0L387.3 1054.6L388.0 1052.3L388.6 1050.0L389.2 1047.6L389.9 1045.3L390.5 1043.0L391.2 1040.6L391.8 1038.3L392.5 1036.0L393.2 1033.7L393.8 1031.3L394.5 1029.0L395.2 1026.7L395.8 1024.4L396.5 1022.1L397.2 1019.7L397.9 1017.4L398.6 1015.1L399.3 1012.8L400.0 1010.5L400.7 1008.2L401.4 1005.9L402.1 1003.6L402.8 1001.3L403.5 999.0L404.2 996.7L404.9 994.3L405.6 992.1L406.4 989.8L407.1 987.5L407.8 985.2L408.6 982.9L409.3 980.6L410.1 978.3L410.8 976.0L411.6 973.7L412.3 971.4L413.1 969.1L413.9 966.9L414.6 964.6L415.4 962.3L416.2 960.0L417.0 957.8L417.8 955.5L418.5 953.2L419.3 950.9L420.1 948.7L420.9 946.4L421.8 944.1L422.6 941.9L423.4 939.6L424.2 937.4L425.0 935.1L425.8 932.8L426.7 930.6L427.5 928.3L428.4 926.1L429.2 923.8L430.0 921.6L430.9 919.4L431.8 917.1L432.6 914.9L433.5 912.6L434.4 910.4L435.2 908.2L436.1 905.9L437.0 903.7L437.9 901.5L438.8 899.3L439.7 897.0L440.6 894.8L441.5 892.6L442.4 890.4L443.3 888.2L444.2 885.9L445.1 883.7L446.1 881.5L447.0 879.3L447.9 877.1L448.9 874.9L449.8 872.7L450.8 870.5L451.7 868.3L452.7 866.1L453.7 863.9L454.6 861.7L455.6 859.6L456.6 857.4L457.6 855.2L458.6 853.0L459.6 850.8L460.6 848.7L461.6 846.5L462.6 844.3L463.6 842.1L464.6 840.0L465.6 837.8L466.7 835.7L467.7 833.5L468.7 831.3L469.8 829.2L470.8 827.0L471.9 824.9L472.9 822.7L474.0 820.6L475.1 818.5L476.2 816.3L477.2 814.2L478.3 812.0L479.4 809.9L480.5 807.8L481.6 805.7L482.7 803.5L483.8 801.4L485.0 799.3L486.1 797.2L487.2 795.1L488.3 793.0L489.5 790.9L490.6 788.8L491.8 786.7L492.9 784.6L494.1 782.5L495.3 780.4L496.4 778.3L497.6 776.2L498.8 774.1L500.0 772.0L501.2 769.9L502.4 767.9L503.6 765.8L504.8 763.7L506.0 761.6L507.3 759.6L508.5 757.5L509.7 755.5L511.0 753.4L512.2 751.3L513.5 749.3L514.7 747.2L516.0 745.2L517.3 743.2L518.6 741.1L519.9 739.1L521.1 737.0L522.4 735.0L523.7 733.0L525.1 731.0L526.4 728.9L527.7 726.9L529.0 724.9L530.4 722.9L531.7 720.9L533.1 718.9L534.4 716.9L535.8 714.9L537.1 712.9L538.5 710.9L539.9 708.9L541.3 706.9L542.7 704.9L544.1 703.0L545.5 701.0L546.9 699.0L548.3 697.0L549.8 695.1L551.2 693.1L552.7 691.2L554.1 689.2L555.6 687.3L557.0 685.3L558.5 683.4L560.0 681.4L561.5 679.5L563.0 677.6L564.5 675.7L566.0 673.8L567.5 671.8L569.0 669.9L570.5 668.0L572.1 666.2L573.6 664.3L575.1 662.4L576.7 660.5L578.3 658.6L579.8 656.8L581.4 654.9L583.0 653.1L584.6 651.2L586.2 649.4L587.8 647.6L589.4 645.8L591.0 644.0L592.7 642.2L594.3 640.4L595.9 638.6L597.6 636.8L599.3 635.0L600.9 633.3L602.6 631.5L604.3 629.7L606.0 628.0L607.7 626.3L609.4 624.6L611.1 622.8L612.8 621.1L614.5 619.4L616.3 617.8L618.0 616.1L619.8 614.4L621.5 612.8L623.3 611.1L625.1 609.5L626.8 607.9L628.6 606.2L630.4 604.6L632.2 603.0L634.0 601.5L635.9 599.9L637.7 598.3L639.5 596.8L641.4 595.2L643.2 593.7L645.1 592.2L646.9 590.7L648.8 589.2L650.7 587.7L652.6 586.3L654.5 584.8L656.4 583.4L658.3 581.9L660.2 580.5L662.2 579.1L664.1 577.7L666.1 576.3L668.0 574.9L670.0 573.6L672.0 572.2L673.9 570.9L675.9 569.6L677.9 568.3L679.9 567.0L681.9 565.7L684.0 564.4L686.0 563.2L688.0 561.9L690.0 560.7L692.1 559.5L694.1 558.3L696.2 557.0L698.3 555.9L700.3 554.7L702.4 553.5L704.5 552.3L706.6 551.2L708.7 550.0L710.8 548.9L712.9 547.8L715.0 546.7L717.1 545.6L719.3 544.5L721.4 543.4L723.5 542.3L725.7 541.3L727.8 540.2L730.0 539.2L732.1 538.1L734.3 537.1L736.5 536.1L738.6 535.1L740.8 534.1L743.0 533.1L745.2 532.1L747.4 531.1L749.6 530.1L751.8 529.1L754.0 528.2L756.2 527.2L758.4 526.3L760.6 525.4L762.8 524.4L765.0 523.5L767.3 522.6L769.5 521.7L771.7 520.8L774.0 519.9L776.2 519.0L778.4 518.1L780.7 517.2L782.9 516.3L785.2 515.5L787.4 514.6L789.7 513.8L792.0 512.9L794.2 512.1L796.5 511.2L798.7 510.4L801.0 509.5L803.3 508.7L805.5 507.9L807.8 507.1L810.1 506.2L812.4 505.4L814.6 504.6L816.9 503.8L819.2 503.0L821.5 502.2L823.7 501.4L826.0 500.6L828.3 499.9L830.6 499.1L832.9 498.3L835.2 497.5L837.4 496.7L839.7 496.0L842.0 495.2L844.3 494.4L846.6 493.7L848.9 492.9L851.2 492.1L853.5 491.4L855.7 490.6L858.0 489.9L860.3 489.1L862.6 488.4L864.9 487.6L867.2 486.9L869.5 486.2L871.8 485.4L874.1 484.7L876.4 484.0L878.7 483.2L881.0 482.5L883.3 481.8L885.5 481.1L887.8 480.3L890.1 479.6L892.4 478.9L894.7 478.2L897.0 477.5L899.3 476.8L901.6 476.1L903.9 475.4L906.2 474.7L908.5 474.0L910.8 473.3L913.1 472.6L915.4 471.9L917.7 471.2L920.0 470.5L922.3 469.8L924.6 469.2L927.0 468.5L929.3 467.8L931.6 467.1L933.9 466.5L936.2 465.8L938.5 465.1L940.8 464.5L943.1 463.8L945.4 463.1L947.7 462.5L950.0 461.8L952.3 461.2L954.6 460.5L957.0 459.9L959.3 459.2L961.6 458.6L963.9 457.9L966.2 457.3L968.5 456.6L970.8 456.0L973.1 455.4L975.5 454.7L977.8 454.1L980.1 453.5L982.4 452.8L984.7 452.2L987.0 451.6L989.3 450.9L991.7 450.3L994.0 449.7L996.3 449.1L998.6 448.5L1000.9 447.9L1003.3 447.2L1005.6 446.6L1007.9 446.0L1010.2 445.4L1012.5 444.8L1014.9 444.2L1017.2 443.6L1019.5 443.0L1021.8 442.4L1024.1 441.8L1026.5 441.2L1028.8 440.6L1031.1 440.0L1033.4 439.4L1035.8 438.9L1038.1 438.3L1040.4 437.7L1042.7 437.1L1045.1 436.5L1047.4 435.9L1049.7 435.4L1052.0 434.8L1054.4 434.2L1056.7 433.6L1059.0 433.1L1061.3 432.5L1063.7 431.9L1066.0 431.4L1068.3 430.8L1070.7 430.2L1073.0 429.7L1075.3 429.1L1077.7 428.5L1080.0 428.0L1082.3 427.4L1084.7 426.9L1087.0 426.3L1089.3 425.8L1091.7 425.2L1094.0 424.7L1096.3 424.1L1098.7 423.6L1101.0 423.0L1103.3 422.5L1105.7 421.9L1108.0 421.4L1110.3 420.8L1112.7 420.3L1115.0 419.8L1117.3 419.2L1119.7 418.7L1122.0 418.2L1124.3 417.6L1126.7 417.1L1129.0 416.6L1131.4 416.0L1133.7 415.5L1136.0 415.0L1138.4 414.4L1140.7 413.9L1143.1 413.4L1145.4 412.9L1147.7 412.3L1150.1 411.8L1152.4 411.3L1154.8 410.8L1157.1 410.3L1159.4 409.7L1161.8 409.2L1164.1 408.7L1166.5 408.2L1168.8 407.7L1171.2 407.2L1173.5 406.6L1175.9 406.1L1178.2 405.6L1180.5 405.1L1182.9 404.6L1185.2 404.1L1187.6 403.6L1189.9 403.1L1192.3 402.6L1194.6 402.1L1197.0 401.6L1199.3 401.1L1201.7 400.6L1204.0 400.1L1206.3 399.6L1208.7 399.1L1211.0 398.6L1213.4 398.1L1215.7 397.6L1218.1 397.1L1220.4 396.6L1222.8 396.1L1225.1 395.6L1227.5 395.1L1229.8 394.6L1232.2 394.1L1234.5 393.6L1236.9 393.1L1239.2 392.6L1241.6 392.1L1243.9 391.6L1246.3 391.1L1248.6 390.7L1251.0 390.2L1253.3 389.7L1255.7 389.2L1258.1 388.7L1260.4 388.2L1262.8 387.7L1265.1 387.2L1267.5 386.8L1269.8 386.3L1272.2 385.8L1274.5 385.3L1276.9 384.8L1279.2 384.3L1281.6 383.9L1283.9 383.4L1286.3 382.9L1288.6 382.4L1291.0 381.9L1293.4 381.4L1295.7 381.0L1298.1 380.5L1300.4 380.0L1302.8 379.5L1305.1 379.0L1307.5 378.6L1309.9 378.1L1312.2 377.6L1314.6 377.1L1316.9 376.6L1319.3 376.2L1321.6 375.7L1324.0 375.2L1326.4 374.7L1328.7 374.2L1331.1 373.8L1333.4 373.3L1335.8 372.8L1338.1 372.3L1340.5 371.8L1342.9 371.4L1345.2 370.9L1347.6 370.4L1349.9 369.9L1352.3 369.4L1354.7 369.0L1357.0 368.5L1359.4 368.0L1361.7 367.5L1364.1 367.1L1366.5 366.6L1368.8 366.1L1371.2 365.6L1373.5 365.1L1375.9 364.7L1378.3 364.2L1380.6 363.7L1383.0 363.2L1385.3 362.7L1387.7 362.3L1390.1 361.8L1392.4 361.3L1394.8 360.8L1397.1 360.3L1399.5 359.8L1401.9 359.4L1404.2 358.9L1406.6 358.4L1409.0 357.9L1411.3 357.4L1413.7 357.0L1416.0 356.5L1418.4 356.0L1420.8 355.5L1423.1 355.0L1425.5 354.5L1427.9 354.0L1430.2 353.6L1432.6 353.1L1434.9 352.6L1437.3 352.1L1439.7 351.6L1442.0 351.1L1444.4 350.6L1446.8 350.1L1449.1 349.6L1451.5 349.2L1453.8 348.7L1456.2 348.2L1458.6 347.7L1460.9 347.2L1463.3 346.7L1465.7 346.2L1468.0 345.7L1470.4 345.2L1472.8 344.7L1475.1 344.2L1477.5 343.7L1479.8 343.2L1482.2 342.7L1484.6 342.2L1486.9 341.7L1489.3 341.2L1491.7 340.7L1494.0 340.2L1496.4 339.7L1498.8 339.2L1501.1 338.7L1503.5 338.2L1505.8 337.7L1508.2 337.2L1510.6 336.7L1512.9 336.2L1515.3 335.6L1517.7 335.1L1520.0 334.6L1522.4 334.1L1524.8 333.6L1527.1 333.1L1529.5 332.6L1531.8 332.1L1534.2 331.5L1536.6 331.0L1538.9 330.5L1541.3 330.0L1543.7 329.5L1546.0 328.9L1548.4 328.4L1550.8 327.9L1553.1 327.4L1555.5 326.9L1557.9 326.3L1560.2 325.8L1562.6 325.3L1564.9 324.8L1567.3 324.2L1569.7 323.7L1572.0 323.2L1574.4 322.7L1576.8 322.1L1579.1 321.6L1581.5 321.1L1583.9 320.5L1586.2 320.0L1588.6 319.5L1590.9 318.9L1593.3 318.4L1595.7 317.9L1598.0 317.3L1600.4 316.8L1602.8 316.3L1605.1 315.7L1607.5 315.2L1609.8 314.6L1612.2 314.1L1614.6 313.6L1616.9 313.0L1619.3 312.5L1621.7 311.9L1624.0 311.4L1626.4 310.9L1628.7 310.3L1631.1 309.8L1633.5 309.2L1635.8 308.7L1638.2 308.1L1640.6 307.6L1642.9 307.0L1645.3 306.5L1647.6 305.9L1650.0 305.4L1652.4 304.8L1654.7 304.3L1657.1 303.7L1659.4 303.2L1661.8 302.6L1664.2 302.1L1666.5 301.5L1668.9 301.0L1671.2 300.4L1673.6 299.9L1676.0 299.3L1678.3 298.8L1680.7 298.2L1683.1 297.7L1685.4 297.1L1687.8 296.5L1690.1 296.0L1692.5 295.4L1694.8 294.9L1697.2 294.3L1699.6 293.8L1701.9 293.2L1704.3 292.6L1706.6 292.1L1709.0 291.5L1711.4 290.9L1713.7 290.4L1716.1 289.8L1718.4 289.3L1720.8 288.7L1723.1 288.1L1725.5 287.6L1727.9 287.0L1730.2 286.4L1732.6 285.9L1734.9 285.3L1737.3 284.7L1739.6 284.2L1742.0 283.6L1744.4 283.0L1746.7 282.5L1749.1 281.9L1751.4 281.3L1753.8 280.7L1756.1 280.2L1758.5 279.6L1760.8 279.0L1763.2 278.5L1765.6 277.9L1767.9 277.3L1770.3 276.7L1772.6 276.2L1775.0 275.6L1777.3 275.0L1779.7 274.4L1782.0 273.9L1784.4 273.3L1786.7 272.7L1789.1 272.1L1791.4 271.6L1793.8 271.0L1796.1 270.4L1798.5 269.8L1800.8 269.3L1803.2 268.7L1805.5 268.1L1807.9 267.5L1810.2 266.9L1812.6 266.4L1814.9 265.8L1817.3 265.2L1819.6 264.6L1822.0 264.0L1824.3 263.5L1826.7 262.9L1829.0 262.3L1831.4 261.7L1833.7 261.1L1836.1 260.6L1838.4 260.0L1840.8 259.4L1843.1 258.8L1845.5 258.2L1847.8 257.6L1850.2 257.1L1852.5 256.5L1854.9 255.9L1857.2 255.3L1859.5 254.7L1861.9 254.1L1864.2 253.6L1866.6 253.0L1868.9 252.4L1871.3 251.8L1873.6 251.2L1876.0 250.6L1878.3 250.0L1880.6 249.4L1883.0 248.9L1885.3 248.3L1887.7 247.7L1890.0 247.1L1892.4 246.5L1894.7 245.9L1897.0 245.3L1899.4 244.7L1901.7 244.2L1904.1 243.6L1906.4 243.0L1908.7 242.4L1911.1 241.8L1913.4 241.2L1915.8 240.6L1918.1 240.0L1920.4 239.4L1922.8 238.9L1925.1 238.3L1927.4 237.7L1929.8 237.1L1932.1 236.5L1934.4 235.9L1936.8 235.3L1939.1 234.7L1941.5 234.1L1943.8 233.5L1946.1 232.9L1948.5 232.4L1950.8 231.8L1953.1 231.2L1955.5 230.6L1957.8 230.0L1960.1 229.4L1962.5 228.8L1964.8 228.2L1967.1 227.6L1969.4 227.0L1971.8 226.4L1974.1 225.8L1976.4 225.3L1978.8 224.7L1981.1 224.1L1983.4 223.5L1985.8 222.9L1988.1 222.3L1990.4 221.7L1992.7 221.1L1995.1 220.5L1997.4 219.9L1999.7 219.3L2002.0 218.7L2004.4 218.1L2006.7 217.6L2009.0 217.0L2011.3 216.4L2013.7 215.8L2016.0 215.2L2018.3 214.6L2020.6 214.0L2023.0 213.4L2025.3 212.8L2027.6 212.2L2029.9 211.6L2032.2 211.0L2034.6 210.4L2036.9 209.9L2039.2 209.3L2041.5 208.7L2043.8 208.1L2046.2 207.5L2048.5 206.9L2050.8 206.3L2053.1 205.7L2055.4 205.1L2057.7 204.5L2060.1 203.9L2062.4 203.3L2064.7 202.8L2067.0 202.2L2069.3 201.6L2071.6 201.0L2073.9 200.4L2076.3 199.8L2078.6 199.2L2080.9 198.6L2083.2 198.0L2085.5 197.4L2087.8 196.8L2090.1 196.3L2092.4 195.7L2094.7 195.1L2097.0 194.5L2099.4 193.9L2101.7 193.3L2104.0 192.7L2106.3 192.1L2108.6 191.5L2110.9 191.0L2113.2 190.4L2115.5 189.8L2117.8 189.2L2120.1 188.6L2122.4 188.0L2124.7 187.4L2127.0 186.8L2129.3 186.2L2131.6 185.7L2133.9 185.1L2136.2 184.5L2138.5 183.9L2140.8 183.3L2143.1 182.7L2145.4 182.1L2147.7 181.6L2150.0 181.0L2152.3 180.4L2154.6 179.8L2156.9 179.2L2159.2 178.6L2161.5 178.0L2163.8 177.5L2166.1 176.9L2168.4 176.3L2170.7 175.7L2173.0 175.1L2175.3 174.5L2177.6 174.0L2179.9 173.4L2182.1 172.8L2184.4 172.2L2186.7 171.6L2189.0 171.1L2191.3 170.5L2193.6 169.9L2195.9 169.3" stroke="rgb(255,40,40)" stroke-opacity="0.74" stroke-width="13" fill="none" stroke-linejoin="round" stroke-linecap="butt"/><path d="M437.9 1077.7L439.1 1075.8L440.3 1073.9L441.5 1072.0L442.7 1070.1L443.9 1068.2L445.1 1066.3L446.3 1064.4L447.5 1062.5L448.7 1060.6L449.9 1058.7L451.1 1056.8L452.4 1054.9L453.6 1053.1L454.8 1051.2L456.1 1049.3L457.3 1047.5L458.6 1045.6L459.8 1043.8L461.1 1041.9L462.4 1040.1L463.6 1038.2L464.9 1036.4L466.2 1034.5L467.5 1032.7L468.8 1030.9L470.0 1029.1L471.3 1027.2L472.6 1025.4L473.9 1023.6L475.2 1021.8L476.6 1020.0L477.9 1018.2L479.2 1016.4L480.5 1014.6L481.8 1012.8L483.2 1011.0L484.5 1009.2L485.9 1007.4L487.2 1005.7L488.6 1003.9L489.9 1002.1L491.3 1000.4L492.6 998.6L494.0 996.8L495.4 995.1L496.7 993.3L498.1 991.6L499.5 989.8L500.9 988.1L502.3 986.4L503.7 984.6L505.1 982.9L506.5 981.2L507.9 979.4L509.3 977.7L510.7 976.0L512.1 974.3L513.5 972.6L514.9 970.9L516.4 969.2L517.8 967.5L519.2 965.8L520.7 964.1L522.1 962.4L523.6 960.7L525.0 959.1L526.5 957.4L527.9 955.7L529.4 954.0L530.9 952.4L532.3 950.7L533.8 949.0L535.3 947.4L536.8 945.7L538.2 944.1L539.7 942.4L541.2 940.8L542.7 939.2L544.2 937.5L545.7 935.9L547.2 934.3L548.7 932.7L550.2 931.0L551.8 929.4L553.3 927.8L554.8 926.2L556.3 924.6L557.9 923.0L559.4 921.4L560.9 919.8L562.5 918.2L564.0 916.6L565.6 915.0L567.1 913.4L568.7 911.9L570.2 910.3L571.8 908.7L573.3 907.2L574.9 905.6L576.5 904.0L578.1 902.5L579.6 900.9L581.2 899.4L582.8 897.8L584.4 896.3L586.0 894.7L587.6 893.2L589.2 891.7L590.8 890.1L592.4 888.6L594.0 887.1L595.6 885.6L597.2 884.1L598.8 882.5L600.4 881.0L602.1 879.5L603.7 878.0L605.3 876.5L606.9 875.0L608.6 873.5L610.2 872.0L611.9 870.6L613.5 869.1L615.1 867.6L616.8 866.1L618.4 864.6L620.1 863.2L621.8 861.7L623.4 860.2L625.1 858.8L626.8 857.3L628.4 855.9L630.1 854.4L631.8 853.0L633.5 851.5L635.1 850.1L636.8 848.7L638.5 847.2L640.2 845.8L641.9 844.4L643.6 842.9L645.3 841.5L647.0 840.1L648.7 838.7L650.4 837.3L652.1 835.9L653.8 834.5L655.5 833.1L657.3 831.7L659.0 830.3L660.7 828.9L662.4 827.5L664.2 826.1L665.9 824.7L667.6 823.3L669.4 822.0L671.1 820.6L672.8 819.2L674.6 817.9L676.3 816.5L678.1 815.1L679.8 813.8L681.6 812.4L683.3 811.1L685.1 809.7L686.9 808.4L688.6 807.0L690.4 805.7L692.2 804.4L693.9 803.0L695.7 801.7L697.5 800.4L699.3 799.0L701.0 797.7L702.8 796.4L704.6 795.1L706.4 793.8L708.2 792.5L710.0 791.2L711.8 789.9L713.6 788.6L715.4 787.3L717.2 786.0L719.0 784.7L720.8 783.4L722.6 782.1L724.4 780.8L726.2 779.5L728.0 778.3L729.9 777.0L731.7 775.7L733.5 774.5L735.3 773.2L737.1 771.9L739.0 770.7L740.8 769.4L742.6 768.2L744.5 766.9L746.3 765.7L748.1 764.4L750.0 763.2L751.8 761.9L753.7 760.7L755.5 759.5L757.4 758.2L759.2 757.0L761.1 755.8L762.9 754.6L764.8 753.3L766.6 752.1L768.5 750.9L770.4 749.7L772.2 748.5L774.1 747.3L776.0 746.1L777.8 744.9L779.7 743.7L781.6 742.5L783.5 741.3L785.3 740.1L787.2 738.9L789.1 737.7L791.0 736.6L792.9 735.4L794.7 734.2L796.6 733.0L798.5 731.9L800.4 730.7L802.3 729.5L804.2 728.4L806.1 727.2L808.0 726.1L809.9 724.9L811.8 723.8L813.7 722.6L815.6 721.5L817.5 720.3L819.4 719.2L821.3 718.0L823.2 716.9L825.1 715.8L827.1 714.6L829.0 713.5L830.9 712.4L832.8 711.3L834.7 710.1L836.6 709.0L838.6 707.9L840.5 706.8L842.4 705.7L844.3 704.6L846.3 703.5L848.2 702.4L850.1 701.3L852.1 700.2L854.0 699.1L855.9 698.0L857.9 696.9L859.8 695.8L861.7 694.7L863.7 693.7L865.6 692.6L867.6 691.5L869.5 690.4L871.4 689.4L873.4 688.3L875.3 687.2L877.3 686.2L879.2 685.1L881.2 684.0L883.1 683.0L885.1 681.9L887.0 680.9L889.0 679.8L891.0 678.8L892.9 677.7L894.9 676.7L896.8 675.6L898.8 674.6L900.7 673.6L902.7 672.5L904.7 671.5L906.6 670.5L908.6 669.4L910.6 668.4L912.5 667.4L914.5 666.4L916.5 665.4L918.4 664.4L920.4 663.3L922.4 662.3L924.4 661.3L926.3 660.3L928.3 659.3L930.3 658.3L932.3 657.3L934.2 656.3L936.2 655.3L938.2 654.3L940.2 653.3L942.2 652.4L944.1 651.4L946.1 650.4L948.1 649.4L950.1 648.4L952.1 647.5L954.1 646.5L956.0 645.5L958.0 644.5L960.0 643.6L962.0 642.6L964.0 641.6L966.0 640.7L968.0 639.7L970.0 638.8L972.0 637.8L974.0 636.9L976.0 635.9L978.0 635.0L980.0 634.0L981.9 633.1L983.9 632.1L985.9 631.2L987.9 630.2L989.9 629.3L991.9 628.4L994.0 627.4L996.0 626.5L998.0 625.6L1000.0 624.6L1002.0 623.7L1004.0 622.8L1006.0 621.9L1008.0 621.0L1010.0 620.0L1012.0 619.1L1014.0 618.2L1016.0 617.3L1018.0 616.4L1020.1 615.5L1022.1 614.6L1024.1 613.7L1026.1 612.8L1028.1 611.9L1030.1 611.0L1032.2 610.1L1034.2 609.2L1036.2 608.3L1038.2 607.4L1040.2 606.5L1042.3 605.6L1044.3 604.8L1046.3 603.9L1048.3 603.0L1050.3 602.1L1052.4 601.2L1054.4 600.4L1056.4 599.5L1058.5 598.6L1060.5 597.7L1062.5 596.9L1064.5 596.0L1066.6 595.1L1068.6 594.3L1070.6 593.4L1072.7 592.6L1074.7 591.7L1076.7 590.8L1078.8 590.0L1080.8 589.1L1082.8 588.3L1084.9 587.4L1086.9 586.6L1088.9 585.7L1091.0 584.9L1093.0 584.1L1095.1 583.2L1097.1 582.4L1099.2 581.5L1101.2 580.7L1103.2 579.9L1105.3 579.0L1107.3 578.2L1109.4 577.4L1111.4 576.5L1113.5 575.7L1115.5 574.9L1117.6 574.1L1119.6 573.2L1121.7 572.4L1123.7 571.6L1125.8 570.8L1127.8 570.0L1129.9 569.1L1131.9 568.3L1134.0 567.5L1136.0 566.7L1138.1 565.9L1140.1 565.1L1142.2 564.3L1144.2 563.5L1146.3 562.7L1148.3 561.9L1150.4 561.1L1152.5 560.3L1154.5 559.5L1156.6 558.7L1158.6 557.9L1160.7 557.1L1162.8 556.3L1164.8 555.5L1166.9 554.7L1169.0 553.9L1171.0 553.2L1173.1 552.4L1175.1 551.6L1177.2 550.8L1179.3 550.0L1181.3 549.2L1183.4 548.5L1185.5 547.7L1187.6 546.9L1189.6 546.1L1191.7 545.4L1193.8 544.6L1195.8 543.8L1197.9 543.0L1200.0 542.3L1202.0 541.5L1204.1 540.7L1206.2 540.0L1208.3 539.2L1210.3 538.5L1212.4 537.7L1214.5 536.9L1216.6 536.2L1218.6 535.4L1220.7 534.7L1222.8 533.9L1224.9 533.1L1227.0 532.4L1229.0 531.6L1231.1 530.9L1233.2 530.1L1235.3 529.4L1237.4 528.6L1239.4 527.9L1241.5 527.2L1243.6 526.4L1245.7 525.7L1247.8 524.9L1249.9 524.2L1252.0 523.4L1254.0 522.7L1256.1 522.0L1258.2 521.2L1260.3 520.5L1262.4 519.8L1264.5 519.0L1266.6 518.3L1268.7 517.6L1270.7 516.8L1272.8 516.1L1274.9 515.4L1277.0 514.6L1279.1 513.9L1281.2 513.2L1283.3 512.5L1285.4 511.7L1287.5 511.0L1289.6 510.3L1291.7 509.6L1293.8 508.8L1295.9 508.1L1298.0 507.4L1300.1 506.7L1302.1 506.0L1304.2 505.3L1306.3 504.5L1308.4 503.8L1310.5 503.1L1312.6 502.4L1314.7 501.7L1316.8 501.0L1318.9 500.3L1321.0 499.5L1323.1 498.8L1325.2 498.1L1327.3 497.4L1329.4 496.7L1331.5 496.0L1333.6 495.3L1335.8 494.6L1337.9 493.9L1340.0 493.2L1342.1 492.5L1344.2 491.8L1346.3 491.1L1348.4 490.4L1350.5 489.7L1352.6 489.0L1354.7 488.3L1356.8 487.6L1358.9 486.9L1361.0 486.2L1363.1 485.5L1365.2 484.8L1367.4 484.1L1369.5 483.4L1371.6 482.7L1373.7 482.0L1375.8 481.3L1377.9 480.6L1380.0 479.9L1382.1 479.3L1384.2 478.6L1386.3 477.9L1388.5 477.2L1390.6 476.5L1392.7 475.8L1394.8 475.1L1396.9 474.4L1399.0 473.7L1401.1 473.1L1403.3 472.4L1405.4 471.7L1407.5 471.0L1409.6 470.3L1411.7 469.6L1413.8 469.0L1416.0 468.3L1418.1 467.6L1420.2 466.9L1422.3 466.2L1424.4 465.5L1426.5 464.9L1428.7 464.2L1430.8 463.5L1432.9 462.8L1435.0 462.1L1437.1 461.5L1439.3 460.8L1441.4 460.1L1443.5 459.4L1445.6 458.7L1447.7 458.1L1449.9 457.4L1452.0 456.7L1454.1 456.0L1456.2 455.4L1458.4 454.7L1460.5 454.0L1462.6 453.3L1464.7 452.7L1466.8 452.0L1469.0 451.3L1471.1 450.6L1473.2 450.0L1475.3 449.3L1477.5 448.6L1479.6 447.9L1481.7 447.3L1483.8 446.6L1486.0 445.9L1488.1 445.2L1490.2 444.6L1492.3 443.9L1494.5 443.2L1496.6 442.6L1498.7 441.9L1500.9 441.2L1503.0 440.5L1505.1 439.9L1507.2 439.2L1509.4 438.5L1511.5 437.9L1513.6 437.2L1515.7 436.5L1517.9 435.8L1520.0 435.2L1522.1 434.5L1524.3 433.8L1526.4 433.2L1528.5 432.5L1530.7 431.8L1532.8 431.1L1534.9 430.5L1537.0 429.8L1539.2 429.1L1541.3 428.5L1543.4 427.8L1545.6 427.1L1547.7 426.5L1549.8 425.8L1552.0 425.1L1554.1 424.5L1556.2 423.8L1558.4 423.1L1560.5 422.4L1562.6 421.8L1564.8 421.1L1566.9 420.4L1569.0 419.8L1571.2 419.1L1573.3 418.4L1575.4 417.8L1577.5 417.1L1579.7 416.4L1581.8 415.8L1583.9 415.1L1586.1 414.4L1588.2 413.8L1590.3 413.1L1592.5 412.4L1594.6 411.8L1596.8 411.1L1598.9 410.4L1601.0 409.8L1603.2 409.1L1605.3 408.4L1607.4 407.8L1609.6 407.1L1611.7 406.4L1613.8 405.8L1616.0 405.1L1618.1 404.4L1620.2 403.8L1622.4 403.1L1624.5 402.4L1626.6 401.8L1628.8 401.1L1630.9 400.4L1633.0 399.8L1635.2 399.1L1637.3 398.4L1639.4 397.8L1641.6 397.1L1643.7 396.4L1645.9 395.8L1648.0 395.1L1650.1 394.4L1652.3 393.8L1654.4 393.1L1656.5 392.5L1658.7 391.8L1660.8 391.1L1662.9 390.5L1665.1 389.8L1667.2 389.1L1669.3 388.5L1671.5 387.8L1673.6 387.1L1675.8 386.5L1677.9 385.8L1680.0 385.2L1682.2 384.5L1684.3 383.8L1686.4 383.2L1688.6 382.5L1690.7 381.8L1692.8 381.2L1695.0 380.5L1697.1 379.8L1699.2 379.2L1701.4 378.5L1703.5 377.9L1705.7 377.2L1707.8 376.5L1709.9 375.9L1712.1 375.2L1714.2 374.5L1716.3 373.9L1718.5 373.2L1720.6 372.6L1722.7 371.9L1724.9 371.2L1727.0 370.6L1729.1 369.9L1731.3 369.3L1733.4 368.6L1735.5 367.9L1737.7 367.3L1739.8 366.6L1742.0 365.9L1744.1 365.3L1746.2 364.6L1748.4 364.0L1750.5 363.3L1752.6 362.6L1754.8 362.0L1756.9 361.3L1759.0 360.7L1761.2 360.0L1763.3 359.3L1765.4 358.7L1767.6 358.0L1769.7 357.4L1771.8 356.7L1774.0 356.0L1776.1 355.4L1778.2 354.7L1780.4 354.1L1782.5 353.4L1784.6 352.7L1786.8 352.1L1788.9 351.4L1791.0 350.8L1793.2 350.1L1795.3 349.4L1797.4 348.8L1799.6 348.1L1801.7 347.5L1803.8 346.8L1805.9 346.1L1808.1 345.5L1810.2 344.8L1812.3 344.2L1814.5 343.5L1816.6 342.8L1818.7 342.2L1820.9 341.5L1823.0 340.9L1825.1 340.2L1827.3 339.5L1829.4 338.9L1831.5 338.2L1833.6 337.6L1835.8 336.9L1837.9 336.3L1840.0 335.6L1842.2 334.9L1844.3 334.3L1846.4 333.6L1848.5 333.0L1850.7 332.3L1852.8 331.6L1854.9 331.0L1857.1 330.3L1859.2 329.7L1861.3 329.0L1863.4 328.4L1865.6 327.7L1867.7 327.0L1869.8 326.4L1871.9 325.7L1874.1 325.1L1876.2 324.4L1878.3 323.7L1880.4 323.1L1882.6 322.4L1884.7 321.8L1886.8 321.1L1888.9 320.5L1891.1 319.8L1893.2 319.1L1895.3 318.5L1897.4 317.8L1899.5 317.2L1901.7 316.5L1903.8 315.9L1905.9 315.2L1908.0 314.5L1910.2 313.9L1912.3 313.2L1914.4 312.6L1916.5 311.9L1918.6 311.3L1920.8 310.6L1922.9 309.9L1925.0 309.3L1927.1 308.6L1929.2 308.0L1931.4 307.3L1933.5 306.7L1935.6 306.0L1937.7 305.3L1939.8 304.7L1941.9 304.0L1944.1 303.4L1946.2 302.7L1948.3 302.1L1950.4 301.4L1952.5 300.7L1954.6 300.1L1956.7 299.4L1958.9 298.8L1961.0 298.1L1963.1 297.5L1965.2 296.8L1967.3 296.1L1969.4 295.5L1971.5 294.8L1973.7 294.2L1975.8 293.5L1977.9 292.9L1980.0 292.2L1982.1 291.5L1984.2 290.9L1986.3 290.2L1988.4 289.6L1990.5 288.9L1992.6 288.3L1994.8 287.6L1996.9 287.0L1999.0 286.3L2001.1 285.6L2003.2 285.0L2005.3 284.3L2007.4 283.7L2009.5 283.0L2011.6 282.4L2013.7 281.7L2015.8 281.0L2017.9 280.4L2020.0 279.7L2022.1 279.1L2024.2 278.4L2026.3 277.8L2028.4 277.1L2030.5 276.5L2032.6 275.8L2034.7 275.1L2036.8 274.5L2038.9 273.8L2041.0 273.2L2043.1 272.5L2045.2 271.9L2047.3 271.2L2049.4 270.5L2051.5 269.9L2053.6 269.2L2055.7 268.6L2057.8 267.9L2059.9 267.3L2062.0 266.6L2064.1 265.9L2066.2 265.3L2068.3 264.6L2070.4 264.0L2072.5 263.3L2074.6 262.7L2076.7 262.0L2078.8 261.4L2080.9 260.7L2082.9 260.0L2085.0 259.4L2087.1 258.7L2089.2 258.1L2091.3 257.4L2093.4 256.8L2095.5 256.1L2097.6 255.4L2099.7 254.8L2101.7 254.1L2103.8 253.5L2105.9 252.8L2108.0 252.2L2110.1 251.5L2112.2 250.8L2114.2 250.2L2116.3 249.5L2118.4 248.9L2120.5 248.2L2122.6 247.6L2124.7 246.9L2126.7 246.2L2128.8 245.6L2130.9 244.9L2133.0 244.3L2135.1 243.6L2137.1 243.0L2139.2 242.3L2141.3 241.7L2143.4 241.0L2145.4 240.3L2147.5 239.7L2149.6 239.0L2151.7 238.4L2153.7 237.7L2155.8 237.1L2157.9 236.4L2159.9 235.7L2162.0 235.1L2164.1 234.4L2166.2 233.8L2168.2 233.1L2170.3 232.5L2172.4 231.8L2174.4 231.1L2176.5 230.5L2178.6 229.8L2180.6 229.2L2182.7 228.5L2184.8 227.8L2186.8 227.2L2188.9 226.5L2191.0 225.9L2193.0 225.2L2195.1 224.6" stroke="rgb(255,40,40)" stroke-opacity="0.74" stroke-width="13" fill="none" stroke-linejoin="round" stroke-linecap="butt"/><path d="M351.8 1063.6L357.2 1063.6L354.5 1067.6ZM355.1 1051.0L360.5 1051.0L357.8 1055.1ZM358.4 1037.7L363.8 1037.7L361.1 1041.7ZM361.6 1024.4L367.0 1024.4L364.3 1028.4ZM364.6 1011.1L370.0 1011.1L367.3 1015.1ZM367.6 997.8L373.0 997.8L370.3 1001.9ZM370.4 984.6L375.8 984.6L373.1 988.7ZM373.2 971.4L378.6 971.4L375.9 975.5ZM375.9 958.2L381.3 958.2L378.6 962.3ZM378.5 945.1L383.9 945.1L381.2 949.1ZM381.0 931.9L386.4 931.9L383.7 936.0ZM383.5 918.8L388.9 918.8L386.2 922.8ZM386.0 905.7L391.4 905.7L388.7 909.7ZM388.4 892.6L393.8 892.6L391.1 896.6ZM390.8 879.5L396.2 879.5L393.5 883.5ZM393.1 866.4L398.5 866.4L395.8 870.5ZM395.5 853.3L400.9 853.3L398.2 857.4ZM398.0 839.5L403.4 839.5L400.7 843.6ZM400.4 826.5L405.8 826.5L403.1 830.5ZM402.8 813.4L408.2 813.4L405.5 817.5ZM405.2 800.4L410.6 800.4L407.9 804.4ZM407.8 786.6L413.2 786.6L410.5 790.6ZM410.3 773.6L415.7 773.6L413.0 777.6ZM412.9 760.5L418.3 760.5L415.6 764.6ZM415.6 747.5L421.0 747.5L418.3 751.5ZM418.3 734.5L423.7 734.5L421.0 738.5ZM421.3 720.7L426.7 720.7L424.0 724.7ZM424.3 707.6L429.7 707.6L427.0 711.7ZM427.3 694.6L432.7 694.6L430.0 698.6ZM430.5 681.5L435.9 681.5L433.2 685.5ZM434.0 667.7L439.4 667.7L436.7 671.7ZM437.4 654.6L442.8 654.6L440.1 658.6ZM441.0 641.5L446.4 641.5L443.7 645.5ZM444.7 628.4L450.1 628.4L447.4 632.4ZM448.7 615.3L454.1 615.3L451.4 619.3ZM452.8 602.2L458.2 602.2L455.5 606.2ZM457.4 588.3L462.8 588.3L460.1 592.4ZM461.9 575.4L467.3 575.4L464.6 579.4ZM466.7 562.4L472.1 562.4L469.4 566.5ZM472.0 548.9L477.4 548.9L474.7 552.9ZM477.7 535.5L483.1 535.5L480.4 539.5ZM483.7 522.3L489.1 522.3L486.4 526.3ZM490.0 509.3L495.4 509.3L492.7 513.3ZM497.1 495.8L502.5 495.8L499.8 499.8ZM504.6 482.6L510.0 482.6L507.3 486.7ZM512.6 469.8L518.0 469.8L515.3 473.8ZM521.9 456.0L527.3 456.0L524.6 460.0ZM531.4 443.3L536.8 443.3L534.1 447.4ZM542.5 430.0L547.9 430.0L545.2 434.0ZM554.8 416.7L560.2 416.7L557.5 420.8ZM568.4 403.7L573.8 403.7L571.1 407.7ZM584.5 390.1L589.9 390.1L587.2 394.1ZM602.1 377.3L607.5 377.3L604.8 381.3ZM624.0 364.1L629.4 364.1L626.7 368.1ZM651.2 351.2L656.6 351.2L653.9 355.3ZM691.7 338.2L697.1 338.2L694.4 342.3ZM774.5 325.5L779.9 325.5L777.2 329.6ZM928.3 312.4L933.7 312.4L931.0 316.5ZM1123.9 299.2L1129.3 299.2L1126.6 303.3ZM1277.7 285.9L1283.1 285.9L1280.4 289.9ZM1392.9 272.7L1398.3 272.7L1395.6 276.7ZM1491.3 259.4L1496.7 259.4L1494.0 263.5ZM1579.3 246.2L1584.7 246.2L1582.0 250.2ZM1660.9 232.9L1666.3 232.9L1663.6 236.9ZM1737.0 219.7L1742.4 219.7L1739.7 223.7ZM1809.9 206.4L1815.3 206.4L1812.6 210.5ZM1879.6 193.2L1885.0 193.2L1882.3 197.3ZM1947.0 180.1L1952.4 180.1L1949.7 184.2ZM2013.6 166.9L2019.0 166.9L2016.3 170.9ZM2078.7 153.7L2084.1 153.7L2081.4 157.7ZM2143.1 140.5L2148.5 140.5L2145.8 144.5ZM379.3 1063.4L384.7 1063.4L382.0 1067.4ZM382.6 1050.7L388.0 1050.7L385.3 1054.8ZM386.3 1037.4L391.7 1037.4L389.0 1041.5ZM390.1 1024.2L395.5 1024.2L392.8 1028.2ZM394.0 1011.0L399.4 1011.0L396.7 1015.0ZM398.0 997.8L403.4 997.8L400.7 1001.9ZM402.2 984.7L407.6 984.7L404.9 988.7ZM406.7 970.9L412.1 970.9L409.4 975.0ZM411.1 957.9L416.5 957.9L413.8 962.0ZM415.6 945.0L421.0 945.0L418.3 949.0ZM420.5 931.4L425.9 931.4L423.2 935.4ZM425.3 918.6L430.7 918.6L428.0 922.6ZM430.5 905.1L435.9 905.1L433.2 909.2ZM435.9 891.7L441.3 891.7L438.6 895.8ZM441.4 878.5L446.8 878.5L444.1 882.5ZM447.1 865.2L452.5 865.2L449.8 869.3ZM452.9 852.1L458.3 852.1L455.6 856.1ZM459.0 839.0L464.4 839.0L461.7 843.1ZM465.5 825.4L470.9 825.4L468.2 829.5ZM471.9 812.6L477.3 812.6L474.6 816.6ZM478.9 799.1L484.3 799.1L481.6 803.2ZM486.0 785.8L491.4 785.8L488.7 789.9ZM493.4 772.6L498.8 772.6L496.1 776.7ZM501.0 759.5L506.4 759.5L503.7 763.6ZM508.9 746.5L514.3 746.5L511.6 750.6ZM517.4 733.1L522.8 733.1L520.1 737.1ZM526.1 719.7L531.5 719.7L528.8 723.8ZM535.1 706.5L540.5 706.5L537.8 710.6ZM544.5 693.5L549.9 693.5L547.2 697.5ZM554.1 680.6L559.5 680.6L556.8 684.6ZM564.5 667.3L569.9 667.3L567.2 671.4ZM575.7 653.8L581.1 653.8L578.4 657.8ZM587.3 640.6L592.7 640.6L590.0 644.6ZM599.8 627.3L605.2 627.3L602.5 631.3ZM612.7 614.5L618.1 614.5L615.4 618.5ZM627.2 601.2L632.6 601.2L629.9 605.3ZM642.7 588.2L648.1 588.2L645.4 592.3ZM660.6 574.8L666.0 574.8L663.3 578.9ZM680.3 561.8L685.7 561.8L683.0 565.8ZM703.3 548.5L708.7 548.5L706.0 552.5ZM728.9 535.5L734.3 535.5L731.6 539.5ZM758.6 522.4L764.0 522.4L761.3 526.4ZM791.6 509.4L797.0 509.4L794.3 513.5ZM829.1 496.1L834.5 496.1L831.8 500.2ZM868.9 483.0L874.3 483.0L871.6 487.1ZM911.7 469.8L917.1 469.8L914.4 473.9ZM957.3 456.6L962.7 456.6L960.0 460.7ZM1005.9 443.5L1011.3 443.5L1008.6 447.6ZM1058.2 430.3L1063.6 430.3L1060.9 434.4ZM1113.5 417.3L1118.9 417.3L1116.2 421.3ZM1172.4 404.1L1177.8 404.1L1175.1 408.2ZM1234.4 390.9L1239.8 390.9L1237.1 395.0ZM1298.6 377.7L1304.0 377.7L1301.3 381.7ZM1363.6 364.5L1369.0 364.5L1366.3 368.5ZM1428.0 351.3L1433.4 351.3L1430.7 355.3ZM1491.1 338.1L1496.5 338.1L1493.8 342.1ZM1552.0 324.8L1557.4 324.8L1554.7 328.9ZM1610.8 311.6L1616.2 311.6L1613.5 315.7ZM1667.4 298.5L1672.8 298.5L1670.1 302.5ZM1723.3 285.2L1728.7 285.2L1726.0 289.3ZM1777.6 272.0L1783.0 272.0L1780.3 276.1ZM1831.2 258.8L1836.6 258.8L1833.9 262.9ZM1884.6 245.5L1890.0 245.5L1887.3 249.6ZM1936.5 232.4L1941.9 232.4L1939.2 236.5ZM1988.9 219.1L1994.3 219.1L1991.6 223.2ZM2040.4 206.0L2045.8 206.0L2043.1 210.0ZM2091.7 192.9L2097.1 192.9L2094.4 196.9ZM2143.5 179.7L2148.9 179.7L2146.2 183.7ZM433.7 1074.4L439.1 1074.4L436.4 1078.4ZM442.0 1061.2L447.4 1061.2L444.7 1065.3ZM450.4 1048.2L455.8 1048.2L453.1 1052.3ZM459.5 1034.9L464.9 1034.9L462.2 1038.9ZM468.8 1021.7L474.2 1021.7L471.5 1025.7ZM478.4 1008.7L483.8 1008.7L481.1 1012.8ZM488.5 995.4L493.9 995.4L491.2 999.5ZM498.9 982.3L504.3 982.3L501.6 986.4ZM509.9 968.9L515.3 968.9L512.6 973.0ZM521.2 955.7L526.6 955.7L523.9 959.8ZM532.7 942.8L538.1 942.8L535.4 946.8ZM544.8 929.5L550.2 929.5L547.5 933.6ZM557.7 916.0L563.1 916.0L560.4 920.1ZM570.8 902.8L576.2 902.8L573.5 906.8ZM584.1 889.8L589.5 889.8L586.8 893.8ZM598.2 876.6L603.6 876.6L600.9 880.6ZM612.9 863.2L618.3 863.2L615.6 867.2ZM628.0 850.1L633.4 850.1L630.7 854.1ZM643.2 837.2L648.6 837.2L645.9 841.3ZM659.7 823.8L665.1 823.8L662.4 827.8ZM676.5 810.7L681.9 810.7L679.2 814.7ZM694.0 797.4L699.4 797.4L696.7 801.5ZM711.7 784.5L717.1 784.5L714.4 788.5ZM730.8 771.0L736.2 771.0L733.5 775.1ZM750.1 757.9L755.5 757.9L752.8 762.0ZM770.1 744.8L775.5 744.8L772.8 748.9ZM791.0 731.6L796.4 731.6L793.7 735.7ZM812.6 718.4L818.0 718.4L815.3 722.5ZM835.0 705.3L840.4 705.3L837.7 709.3ZM858.2 692.1L863.6 692.1L860.9 696.2ZM882.2 679.0L887.6 679.0L884.9 683.1ZM907.5 665.7L912.9 665.7L910.2 669.7ZM933.5 652.4L938.9 652.4L936.2 656.4ZM960.3 639.2L965.7 639.2L963.0 643.3ZM987.9 626.2L993.3 626.2L990.6 630.2ZM1016.8 613.0L1022.2 613.0L1019.5 617.0ZM1046.5 599.9L1051.9 599.9L1049.2 603.9ZM1077.5 586.7L1082.9 586.7L1080.2 590.7ZM1109.4 573.6L1114.8 573.6L1112.1 577.7ZM1143.2 560.2L1148.6 560.2L1145.9 564.2ZM1177.2 547.2L1182.6 547.2L1179.9 551.2ZM1212.7 534.0L1218.1 534.0L1215.4 538.1ZM1249.5 520.8L1254.9 520.8L1252.2 524.9ZM1287.1 507.7L1292.5 507.7L1289.8 511.7ZM1326.1 494.4L1331.5 494.4L1328.8 498.5ZM1365.9 481.2L1371.3 481.2L1368.6 485.3ZM1406.4 468.0L1411.8 468.0L1409.1 472.1ZM1447.7 454.8L1453.1 454.8L1450.4 458.8ZM1489.1 441.6L1494.5 441.6L1491.8 445.7ZM1530.6 428.6L1536.0 428.6L1533.3 432.6ZM1572.8 415.3L1578.2 415.3L1575.5 419.4ZM1615.0 402.1L1620.4 402.1L1617.7 406.2ZM1657.2 389.0L1662.6 389.0L1659.9 393.0ZM1700.1 375.6L1705.5 375.6L1702.8 379.7ZM1742.4 362.6L1747.8 362.6L1745.1 366.6ZM1785.2 349.3L1790.6 349.3L1787.9 353.3ZM1828.0 336.1L1833.4 336.1L1830.7 340.1ZM1870.7 322.8L1876.1 322.8L1873.4 326.9ZM1913.4 309.6L1918.8 309.6L1916.1 313.7ZM1955.9 296.4L1961.3 296.4L1958.6 300.5ZM1998.3 283.2L2003.7 283.2L2001.0 287.3ZM2040.5 270.0L2045.9 270.0L2043.2 274.1ZM2082.6 256.9L2088.0 256.9L2085.3 260.9ZM2124.5 243.7L2129.9 243.7L2127.2 247.7ZM2166.1 230.5L2171.5 230.5L2168.8 234.5Z" fill="#9c0000" stroke="#9c0000" stroke-width="3.6" stroke-linejoin="round"/><path d="M1380 786.2H1471" stroke="#8a8a8a" stroke-width="5.5"/><circle cx="1398" cy="885.2" r="17"/><circle cx="1447.6" cy="885.2" r="17"/><path d="M1381 986.2H1475" stroke="rgb(255,40,40)" stroke-opacity="0.74" stroke-width="15"/><path d="M1392.5 984.2L1399.3 984.2L1395.9 989.3ZM1425.0 984.2L1431.8 984.2L1428.4 989.3ZM1457.6 984.2L1464.4 984.2L1461.0 989.3Z" fill="#8a0000" stroke="#8a0000" stroke-width="3.2" stroke-linejoin="round"/></g><g filter="url(#bt)"><g transform="translate(214.10,238.50)"><text x="0" y="0" font-family="'Liberation Serif', 'DejaVu Serif', serif" font-size="77.07" font-weight="normal" font-style="normal" textLength="80.43" lengthAdjust="spacingAndGlyphs">60</text></g><g transform="translate(214.70,565.40)"><text x="0" y="0" font-family="'Liberation Serif', 'DejaVu Serif', serif" font-size="80.39" font-weight="normal" font-style="normal" textLength="79.87" lengthAdjust="spacingAndGlyphs">40</text></g><g transform="translate(213.00,896.70)"><text x="0" y="0" font-family="'Liberation Serif', 'DejaVu Serif', serif" font-size="79.45" font-weight="normal" font-style="normal" textLength="78.79" lengthAdjust="spacingAndGlyphs">20</text></g><g transform="translate(257.80,1227.00)"><text x="0" y="0" font-family="'Liberation Serif', 'DejaVu Serif', serif" font-size="78.39" font-weight="normal" font-style="normal" textLength="41.07" lengthAdjust="spacingAndGlyphs">0</text></g><g transform="translate(322.10,1311.00)"><text x="0" y="0" font-family="'Liberation Serif', 'DejaVu Serif', serif" font-size="78.39" font-weight="normal" font-style="normal" textLength="39.53" lengthAdjust="spacingAndGlyphs">0</text></g><g transform="translate(590.10,1312.00)"><text x="0" y="0" font-family="'Liberation Serif', 'DejaVu Serif', serif" font-size="78.44" font-weight="normal" font-style="normal" textLength="99.33" lengthAdjust="spacingAndGlyphs">0.5</text></g><g transform="translate(900.90,1311.90)"><text x="0" y="0" font-family="'Liberation Serif', 'DejaVu Serif', serif" font-size="78.28" font-weight="normal" font-style="normal" textLength="98.15" lengthAdjust="spacingAndGlyphs">1.0</text></g><g transform="translate(1210.50,1311.40)"><text x="0" y="0" font-family="'Liberation Serif', 'DejaVu Serif', serif" font-size="81.09" font-weight="normal" font-style="normal" textLength="97.49" lengthAdjust="spacingAndGlyphs">1.5</text></g><g transform="translate(1527.50,1311.40)"><text x="0" y="0" font-family="'Liberation Serif', 'DejaVu Serif', serif" font-size="81.09" font-weight="normal" font-style="normal" textLength="97.57" lengthAdjust="spacingAndGlyphs">2.0</text></g><g transform="translate(1833.90,1310.60)"><text x="0" y="0" font-family="'Liberation Serif', 'DejaVu Serif', serif" font-size="78.11" font-weight="normal" font-style="normal" textLength="95.55" lengthAdjust="spacingAndGlyphs">2.5</text></g><g transform="translate(2142.90,1310.60)"><text x="0" y="0" font-family="'Liberation Serif', 'DejaVu Serif', serif" font-size="78.11" font-weight="normal" font-style="normal" textLength="97.63" lengthAdjust="spacingAndGlyphs">3.0</text></g><g transform="translate(944.20,1444.30)"><text x="0" y="0" font-family="'Liberation Serif', 'DejaVu Serif', serif" font-size="98.81" font-weight="normal" font-style="normal" textLength="139.38" lengthAdjust="spacingAndGlyphs">DC</text></g><g transform="translate(1097.50,1448.20)"><text x="0" y="0" font-family="'Liberation Serif', 'DejaVu Serif', serif" font-size="101.24" font-weight="normal" font-style="normal" textLength="298.06" lengthAdjust="spacingAndGlyphs">voltage</text></g><g transform="translate(1409.80,1443.40)"><text x="0" y="0" font-family="'Liberation Serif', 'DejaVu Serif', serif" font-size="92.94" font-weight="normal" font-style="normal" textLength="200.66" lengthAdjust="spacingAndGlyphs">(mV)</text></g><g transform="translate(101.52,896.50) rotate(-90)"><text x="0" y="0" font-family="'Liberation Serif', 'DejaVu Serif', serif" font-size="106.68" font-weight="normal" font-style="normal" textLength="150.61" lengthAdjust="spacingAndGlyphs">DC</text></g><g transform="translate(102.02,726.90) rotate(-90)"><text x="0" y="0" font-family="'Liberation Serif', 'DejaVu Serif', serif" font-size="96.35" font-weight="normal" font-style="normal" textLength="289.48" lengthAdjust="spacingAndGlyphs">current</text></g><g transform="translate(103.56,409.50) rotate(-90)"><text x="0" y="0" font-family="'Liberation Serif', 'DejaVu Serif', serif" font-size="104.41" font-weight="normal" font-style="normal" textLength="193.41" lengthAdjust="spacingAndGlyphs">(μA)</text></g><g transform="translate(1508.90,824.30)"><text x="0" y="0" font-family="'Liberation Serif', 'DejaVu Serif', serif" font-size="79.16" font-weight="normal" font-style="normal" textLength="464.22" lengthAdjust="spacingAndGlyphs">Measurement</text></g><g transform="translate(1986.80,830.60)"><text x="0" y="0" font-family="'Liberation Serif', 'DejaVu Serif', serif" font-size="83.61" font-weight="normal" font-style="normal" textLength="124.09" lengthAdjust="spacingAndGlyphs">[24]</text></g><g transform="translate(1506.60,916.60)"><text x="0" y="0" font-family="'Liberation Serif', 'DejaVu Serif', serif" font-size="78.38" font-weight="normal" font-style="normal" textLength="374.63" lengthAdjust="spacingAndGlyphs">Simulation</text></g><g transform="translate(1891.70,921.50)"><text x="0" y="0" font-family="'Liberation Serif', 'DejaVu Serif', serif" font-size="84.39" font-weight="normal" font-style="normal" textLength="124.42" lengthAdjust="spacingAndGlyphs">[24]</text></g><g transform="translate(1510.20,1004.30)"><text x="0" y="0" font-family="'Liberation Serif', 'DejaVu Serif', serif" font-size="78.93" font-weight="normal" font-style="normal" textLength="629.43" lengthAdjust="spacingAndGlyphs">Present simulation</text></g><g transform="translate(664.60,170.70)"><text x="0" y="0" font-family="'Liberation Serif', 'DejaVu Serif', serif" font-size="77.88" font-weight="bold" font-style="italic" textLength="50.04" lengthAdjust="spacingAndGlyphs">P</text></g><g transform="translate(718.40,183.20)"><text x="0" y="0" font-family="'Liberation Serif', 'DejaVu Serif', serif" font-size="54.01" font-weight="normal" font-style="normal" textLength="72.89" lengthAdjust="spacingAndGlyphs">LO</text></g><g transform="translate(807.10,162.50)"><text x="0" y="0" font-family="'Liberation Serif', 'DejaVu Serif', serif" font-size="70.67" font-weight="normal" font-style="normal" textLength="22.94" lengthAdjust="spacingAndGlyphs">(</text></g><g transform="translate(828.80,168.30)"><text x="0" y="0" font-family="'Liberation Serif', 'DejaVu Serif', serif" font-size="79.45" font-weight="bold" font-style="normal" textLength="124.15" lengthAdjust="spacingAndGlyphs">nW</text></g><g transform="translate(953.00,162.50)"><text x="0" y="0" font-family="'Liberation Serif', 'DejaVu Serif', serif" font-size="70.67" font-weight="normal" font-style="normal" textLength="21.95" lengthAdjust="spacingAndGlyphs">)</text></g><g transform="translate(764.40,295.30)"><text x="0" y="0" font-family="'Liberation Serif', 'DejaVu Serif', serif" font-size="78.94" font-weight="bold" font-style="normal" textLength="113.79" lengthAdjust="spacingAndGlyphs">220</text></g><g transform="translate(764.40,618.50)"><text x="0" y="0" font-family="'Liberation Serif', 'DejaVu Serif', serif" font-size="76.78" font-weight="bold" font-style="normal" textLength="113.78" lengthAdjust="spacingAndGlyphs">250</text></g><g transform="translate(764.90,832.10)"><text x="0" y="0" font-family="'Liberation Serif', 'DejaVu Serif', serif" font-size="75.68" font-weight="bold" font-style="normal" textLength="112.74" lengthAdjust="spacingAndGlyphs">300</text></g></g></svg></body></html>
